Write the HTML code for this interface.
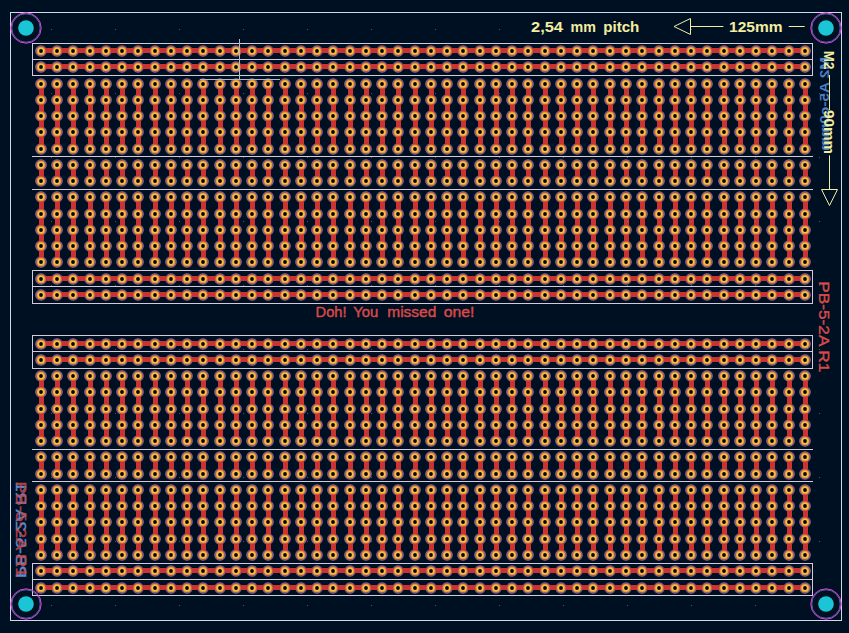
<!DOCTYPE html><html><head><meta charset="utf-8"><style>html,body{margin:0;padding:0;background:#001023;width:849px;height:633px;overflow:hidden}svg{display:block}text{font-family:"Liberation Sans",sans-serif;font-weight:bold}</style></head><body>
<svg width="849" height="633" viewBox="0 0 849 633">
<defs><g id="q"><circle r="5.8" fill="#8c6c9c"/><circle r="4.8" fill="#5c2c48"/></g><g id="p"><circle r="4.6" fill="#e68646"/><circle r="3.5" fill="#f0c244"/><circle r="1.9" fill="#080400"/></g></defs>
<rect width="849" height="633" fill="#001023"/>
<rect x="10.5" y="12.5" width="831" height="608" fill="none" stroke="#d0dae6" stroke-width="1"/>
<g><use href="#q" x="41.00" y="51.00"/><use href="#q" x="57.00" y="51.00"/><use href="#q" x="73.00" y="51.00"/><use href="#q" x="90.00" y="51.00"/><use href="#q" x="106.00" y="51.00"/><use href="#q" x="122.00" y="51.00"/><use href="#q" x="138.00" y="51.00"/><use href="#q" x="155.00" y="51.00"/><use href="#q" x="171.00" y="51.00"/><use href="#q" x="187.00" y="51.00"/><use href="#q" x="203.00" y="51.00"/><use href="#q" x="220.00" y="51.00"/><use href="#q" x="236.00" y="51.00"/><use href="#q" x="252.00" y="51.00"/><use href="#q" x="268.00" y="51.00"/><use href="#q" x="285.00" y="51.00"/><use href="#q" x="301.00" y="51.00"/><use href="#q" x="317.00" y="51.00"/><use href="#q" x="333.00" y="51.00"/><use href="#q" x="350.00" y="51.00"/><use href="#q" x="366.00" y="51.00"/><use href="#q" x="382.00" y="51.00"/><use href="#q" x="398.00" y="51.00"/><use href="#q" x="415.00" y="51.00"/><use href="#q" x="431.00" y="51.00"/><use href="#q" x="447.00" y="51.00"/><use href="#q" x="463.00" y="51.00"/><use href="#q" x="480.00" y="51.00"/><use href="#q" x="496.00" y="51.00"/><use href="#q" x="512.00" y="51.00"/><use href="#q" x="528.00" y="51.00"/><use href="#q" x="545.00" y="51.00"/><use href="#q" x="561.00" y="51.00"/><use href="#q" x="577.00" y="51.00"/><use href="#q" x="593.00" y="51.00"/><use href="#q" x="610.00" y="51.00"/><use href="#q" x="626.00" y="51.00"/><use href="#q" x="642.00" y="51.00"/><use href="#q" x="659.00" y="51.00"/><use href="#q" x="675.00" y="51.00"/><use href="#q" x="691.00" y="51.00"/><use href="#q" x="707.00" y="51.00"/><use href="#q" x="724.00" y="51.00"/><use href="#q" x="740.00" y="51.00"/><use href="#q" x="756.00" y="51.00"/><use href="#q" x="772.00" y="51.00"/><use href="#q" x="789.00" y="51.00"/><use href="#q" x="805.00" y="51.00"/><use href="#q" x="41.00" y="67.00"/><use href="#q" x="57.00" y="67.00"/><use href="#q" x="73.00" y="67.00"/><use href="#q" x="90.00" y="67.00"/><use href="#q" x="106.00" y="67.00"/><use href="#q" x="122.00" y="67.00"/><use href="#q" x="138.00" y="67.00"/><use href="#q" x="155.00" y="67.00"/><use href="#q" x="171.00" y="67.00"/><use href="#q" x="187.00" y="67.00"/><use href="#q" x="203.00" y="67.00"/><use href="#q" x="220.00" y="67.00"/><use href="#q" x="236.00" y="67.00"/><use href="#q" x="252.00" y="67.00"/><use href="#q" x="268.00" y="67.00"/><use href="#q" x="285.00" y="67.00"/><use href="#q" x="301.00" y="67.00"/><use href="#q" x="317.00" y="67.00"/><use href="#q" x="333.00" y="67.00"/><use href="#q" x="350.00" y="67.00"/><use href="#q" x="366.00" y="67.00"/><use href="#q" x="382.00" y="67.00"/><use href="#q" x="398.00" y="67.00"/><use href="#q" x="415.00" y="67.00"/><use href="#q" x="431.00" y="67.00"/><use href="#q" x="447.00" y="67.00"/><use href="#q" x="463.00" y="67.00"/><use href="#q" x="480.00" y="67.00"/><use href="#q" x="496.00" y="67.00"/><use href="#q" x="512.00" y="67.00"/><use href="#q" x="528.00" y="67.00"/><use href="#q" x="545.00" y="67.00"/><use href="#q" x="561.00" y="67.00"/><use href="#q" x="577.00" y="67.00"/><use href="#q" x="593.00" y="67.00"/><use href="#q" x="610.00" y="67.00"/><use href="#q" x="626.00" y="67.00"/><use href="#q" x="642.00" y="67.00"/><use href="#q" x="659.00" y="67.00"/><use href="#q" x="675.00" y="67.00"/><use href="#q" x="691.00" y="67.00"/><use href="#q" x="707.00" y="67.00"/><use href="#q" x="724.00" y="67.00"/><use href="#q" x="740.00" y="67.00"/><use href="#q" x="756.00" y="67.00"/><use href="#q" x="772.00" y="67.00"/><use href="#q" x="789.00" y="67.00"/><use href="#q" x="805.00" y="67.00"/><use href="#q" x="41.00" y="84.00"/><use href="#q" x="57.00" y="84.00"/><use href="#q" x="73.00" y="84.00"/><use href="#q" x="90.00" y="84.00"/><use href="#q" x="106.00" y="84.00"/><use href="#q" x="122.00" y="84.00"/><use href="#q" x="138.00" y="84.00"/><use href="#q" x="155.00" y="84.00"/><use href="#q" x="171.00" y="84.00"/><use href="#q" x="187.00" y="84.00"/><use href="#q" x="203.00" y="84.00"/><use href="#q" x="220.00" y="84.00"/><use href="#q" x="236.00" y="84.00"/><use href="#q" x="252.00" y="84.00"/><use href="#q" x="268.00" y="84.00"/><use href="#q" x="285.00" y="84.00"/><use href="#q" x="301.00" y="84.00"/><use href="#q" x="317.00" y="84.00"/><use href="#q" x="333.00" y="84.00"/><use href="#q" x="350.00" y="84.00"/><use href="#q" x="366.00" y="84.00"/><use href="#q" x="382.00" y="84.00"/><use href="#q" x="398.00" y="84.00"/><use href="#q" x="415.00" y="84.00"/><use href="#q" x="431.00" y="84.00"/><use href="#q" x="447.00" y="84.00"/><use href="#q" x="463.00" y="84.00"/><use href="#q" x="480.00" y="84.00"/><use href="#q" x="496.00" y="84.00"/><use href="#q" x="512.00" y="84.00"/><use href="#q" x="528.00" y="84.00"/><use href="#q" x="545.00" y="84.00"/><use href="#q" x="561.00" y="84.00"/><use href="#q" x="577.00" y="84.00"/><use href="#q" x="593.00" y="84.00"/><use href="#q" x="610.00" y="84.00"/><use href="#q" x="626.00" y="84.00"/><use href="#q" x="642.00" y="84.00"/><use href="#q" x="659.00" y="84.00"/><use href="#q" x="675.00" y="84.00"/><use href="#q" x="691.00" y="84.00"/><use href="#q" x="707.00" y="84.00"/><use href="#q" x="724.00" y="84.00"/><use href="#q" x="740.00" y="84.00"/><use href="#q" x="756.00" y="84.00"/><use href="#q" x="772.00" y="84.00"/><use href="#q" x="789.00" y="84.00"/><use href="#q" x="805.00" y="84.00"/><use href="#q" x="41.00" y="100.00"/><use href="#q" x="57.00" y="100.00"/><use href="#q" x="73.00" y="100.00"/><use href="#q" x="90.00" y="100.00"/><use href="#q" x="106.00" y="100.00"/><use href="#q" x="122.00" y="100.00"/><use href="#q" x="138.00" y="100.00"/><use href="#q" x="155.00" y="100.00"/><use href="#q" x="171.00" y="100.00"/><use href="#q" x="187.00" y="100.00"/><use href="#q" x="203.00" y="100.00"/><use href="#q" x="220.00" y="100.00"/><use href="#q" x="236.00" y="100.00"/><use href="#q" x="252.00" y="100.00"/><use href="#q" x="268.00" y="100.00"/><use href="#q" x="285.00" y="100.00"/><use href="#q" x="301.00" y="100.00"/><use href="#q" x="317.00" y="100.00"/><use href="#q" x="333.00" y="100.00"/><use href="#q" x="350.00" y="100.00"/><use href="#q" x="366.00" y="100.00"/><use href="#q" x="382.00" y="100.00"/><use href="#q" x="398.00" y="100.00"/><use href="#q" x="415.00" y="100.00"/><use href="#q" x="431.00" y="100.00"/><use href="#q" x="447.00" y="100.00"/><use href="#q" x="463.00" y="100.00"/><use href="#q" x="480.00" y="100.00"/><use href="#q" x="496.00" y="100.00"/><use href="#q" x="512.00" y="100.00"/><use href="#q" x="528.00" y="100.00"/><use href="#q" x="545.00" y="100.00"/><use href="#q" x="561.00" y="100.00"/><use href="#q" x="577.00" y="100.00"/><use href="#q" x="593.00" y="100.00"/><use href="#q" x="610.00" y="100.00"/><use href="#q" x="626.00" y="100.00"/><use href="#q" x="642.00" y="100.00"/><use href="#q" x="659.00" y="100.00"/><use href="#q" x="675.00" y="100.00"/><use href="#q" x="691.00" y="100.00"/><use href="#q" x="707.00" y="100.00"/><use href="#q" x="724.00" y="100.00"/><use href="#q" x="740.00" y="100.00"/><use href="#q" x="756.00" y="100.00"/><use href="#q" x="772.00" y="100.00"/><use href="#q" x="789.00" y="100.00"/><use href="#q" x="805.00" y="100.00"/><use href="#q" x="41.00" y="116.00"/><use href="#q" x="57.00" y="116.00"/><use href="#q" x="73.00" y="116.00"/><use href="#q" x="90.00" y="116.00"/><use href="#q" x="106.00" y="116.00"/><use href="#q" x="122.00" y="116.00"/><use href="#q" x="138.00" y="116.00"/><use href="#q" x="155.00" y="116.00"/><use href="#q" x="171.00" y="116.00"/><use href="#q" x="187.00" y="116.00"/><use href="#q" x="203.00" y="116.00"/><use href="#q" x="220.00" y="116.00"/><use href="#q" x="236.00" y="116.00"/><use href="#q" x="252.00" y="116.00"/><use href="#q" x="268.00" y="116.00"/><use href="#q" x="285.00" y="116.00"/><use href="#q" x="301.00" y="116.00"/><use href="#q" x="317.00" y="116.00"/><use href="#q" x="333.00" y="116.00"/><use href="#q" x="350.00" y="116.00"/><use href="#q" x="366.00" y="116.00"/><use href="#q" x="382.00" y="116.00"/><use href="#q" x="398.00" y="116.00"/><use href="#q" x="415.00" y="116.00"/><use href="#q" x="431.00" y="116.00"/><use href="#q" x="447.00" y="116.00"/><use href="#q" x="463.00" y="116.00"/><use href="#q" x="480.00" y="116.00"/><use href="#q" x="496.00" y="116.00"/><use href="#q" x="512.00" y="116.00"/><use href="#q" x="528.00" y="116.00"/><use href="#q" x="545.00" y="116.00"/><use href="#q" x="561.00" y="116.00"/><use href="#q" x="577.00" y="116.00"/><use href="#q" x="593.00" y="116.00"/><use href="#q" x="610.00" y="116.00"/><use href="#q" x="626.00" y="116.00"/><use href="#q" x="642.00" y="116.00"/><use href="#q" x="659.00" y="116.00"/><use href="#q" x="675.00" y="116.00"/><use href="#q" x="691.00" y="116.00"/><use href="#q" x="707.00" y="116.00"/><use href="#q" x="724.00" y="116.00"/><use href="#q" x="740.00" y="116.00"/><use href="#q" x="756.00" y="116.00"/><use href="#q" x="772.00" y="116.00"/><use href="#q" x="789.00" y="116.00"/><use href="#q" x="805.00" y="116.00"/><use href="#q" x="41.00" y="132.00"/><use href="#q" x="57.00" y="132.00"/><use href="#q" x="73.00" y="132.00"/><use href="#q" x="90.00" y="132.00"/><use href="#q" x="106.00" y="132.00"/><use href="#q" x="122.00" y="132.00"/><use href="#q" x="138.00" y="132.00"/><use href="#q" x="155.00" y="132.00"/><use href="#q" x="171.00" y="132.00"/><use href="#q" x="187.00" y="132.00"/><use href="#q" x="203.00" y="132.00"/><use href="#q" x="220.00" y="132.00"/><use href="#q" x="236.00" y="132.00"/><use href="#q" x="252.00" y="132.00"/><use href="#q" x="268.00" y="132.00"/><use href="#q" x="285.00" y="132.00"/><use href="#q" x="301.00" y="132.00"/><use href="#q" x="317.00" y="132.00"/><use href="#q" x="333.00" y="132.00"/><use href="#q" x="350.00" y="132.00"/><use href="#q" x="366.00" y="132.00"/><use href="#q" x="382.00" y="132.00"/><use href="#q" x="398.00" y="132.00"/><use href="#q" x="415.00" y="132.00"/><use href="#q" x="431.00" y="132.00"/><use href="#q" x="447.00" y="132.00"/><use href="#q" x="463.00" y="132.00"/><use href="#q" x="480.00" y="132.00"/><use href="#q" x="496.00" y="132.00"/><use href="#q" x="512.00" y="132.00"/><use href="#q" x="528.00" y="132.00"/><use href="#q" x="545.00" y="132.00"/><use href="#q" x="561.00" y="132.00"/><use href="#q" x="577.00" y="132.00"/><use href="#q" x="593.00" y="132.00"/><use href="#q" x="610.00" y="132.00"/><use href="#q" x="626.00" y="132.00"/><use href="#q" x="642.00" y="132.00"/><use href="#q" x="659.00" y="132.00"/><use href="#q" x="675.00" y="132.00"/><use href="#q" x="691.00" y="132.00"/><use href="#q" x="707.00" y="132.00"/><use href="#q" x="724.00" y="132.00"/><use href="#q" x="740.00" y="132.00"/><use href="#q" x="756.00" y="132.00"/><use href="#q" x="772.00" y="132.00"/><use href="#q" x="789.00" y="132.00"/><use href="#q" x="805.00" y="132.00"/><use href="#q" x="41.00" y="149.00"/><use href="#q" x="57.00" y="149.00"/><use href="#q" x="73.00" y="149.00"/><use href="#q" x="90.00" y="149.00"/><use href="#q" x="106.00" y="149.00"/><use href="#q" x="122.00" y="149.00"/><use href="#q" x="138.00" y="149.00"/><use href="#q" x="155.00" y="149.00"/><use href="#q" x="171.00" y="149.00"/><use href="#q" x="187.00" y="149.00"/><use href="#q" x="203.00" y="149.00"/><use href="#q" x="220.00" y="149.00"/><use href="#q" x="236.00" y="149.00"/><use href="#q" x="252.00" y="149.00"/><use href="#q" x="268.00" y="149.00"/><use href="#q" x="285.00" y="149.00"/><use href="#q" x="301.00" y="149.00"/><use href="#q" x="317.00" y="149.00"/><use href="#q" x="333.00" y="149.00"/><use href="#q" x="350.00" y="149.00"/><use href="#q" x="366.00" y="149.00"/><use href="#q" x="382.00" y="149.00"/><use href="#q" x="398.00" y="149.00"/><use href="#q" x="415.00" y="149.00"/><use href="#q" x="431.00" y="149.00"/><use href="#q" x="447.00" y="149.00"/><use href="#q" x="463.00" y="149.00"/><use href="#q" x="480.00" y="149.00"/><use href="#q" x="496.00" y="149.00"/><use href="#q" x="512.00" y="149.00"/><use href="#q" x="528.00" y="149.00"/><use href="#q" x="545.00" y="149.00"/><use href="#q" x="561.00" y="149.00"/><use href="#q" x="577.00" y="149.00"/><use href="#q" x="593.00" y="149.00"/><use href="#q" x="610.00" y="149.00"/><use href="#q" x="626.00" y="149.00"/><use href="#q" x="642.00" y="149.00"/><use href="#q" x="659.00" y="149.00"/><use href="#q" x="675.00" y="149.00"/><use href="#q" x="691.00" y="149.00"/><use href="#q" x="707.00" y="149.00"/><use href="#q" x="724.00" y="149.00"/><use href="#q" x="740.00" y="149.00"/><use href="#q" x="756.00" y="149.00"/><use href="#q" x="772.00" y="149.00"/><use href="#q" x="789.00" y="149.00"/><use href="#q" x="805.00" y="149.00"/><use href="#q" x="41.00" y="165.00"/><use href="#q" x="57.00" y="165.00"/><use href="#q" x="73.00" y="165.00"/><use href="#q" x="90.00" y="165.00"/><use href="#q" x="106.00" y="165.00"/><use href="#q" x="122.00" y="165.00"/><use href="#q" x="138.00" y="165.00"/><use href="#q" x="155.00" y="165.00"/><use href="#q" x="171.00" y="165.00"/><use href="#q" x="187.00" y="165.00"/><use href="#q" x="203.00" y="165.00"/><use href="#q" x="220.00" y="165.00"/><use href="#q" x="236.00" y="165.00"/><use href="#q" x="252.00" y="165.00"/><use href="#q" x="268.00" y="165.00"/><use href="#q" x="285.00" y="165.00"/><use href="#q" x="301.00" y="165.00"/><use href="#q" x="317.00" y="165.00"/><use href="#q" x="333.00" y="165.00"/><use href="#q" x="350.00" y="165.00"/><use href="#q" x="366.00" y="165.00"/><use href="#q" x="382.00" y="165.00"/><use href="#q" x="398.00" y="165.00"/><use href="#q" x="415.00" y="165.00"/><use href="#q" x="431.00" y="165.00"/><use href="#q" x="447.00" y="165.00"/><use href="#q" x="463.00" y="165.00"/><use href="#q" x="480.00" y="165.00"/><use href="#q" x="496.00" y="165.00"/><use href="#q" x="512.00" y="165.00"/><use href="#q" x="528.00" y="165.00"/><use href="#q" x="545.00" y="165.00"/><use href="#q" x="561.00" y="165.00"/><use href="#q" x="577.00" y="165.00"/><use href="#q" x="593.00" y="165.00"/><use href="#q" x="610.00" y="165.00"/><use href="#q" x="626.00" y="165.00"/><use href="#q" x="642.00" y="165.00"/><use href="#q" x="659.00" y="165.00"/><use href="#q" x="675.00" y="165.00"/><use href="#q" x="691.00" y="165.00"/><use href="#q" x="707.00" y="165.00"/><use href="#q" x="724.00" y="165.00"/><use href="#q" x="740.00" y="165.00"/><use href="#q" x="756.00" y="165.00"/><use href="#q" x="772.00" y="165.00"/><use href="#q" x="789.00" y="165.00"/><use href="#q" x="805.00" y="165.00"/><use href="#q" x="41.00" y="181.00"/><use href="#q" x="57.00" y="181.00"/><use href="#q" x="73.00" y="181.00"/><use href="#q" x="90.00" y="181.00"/><use href="#q" x="106.00" y="181.00"/><use href="#q" x="122.00" y="181.00"/><use href="#q" x="138.00" y="181.00"/><use href="#q" x="155.00" y="181.00"/><use href="#q" x="171.00" y="181.00"/><use href="#q" x="187.00" y="181.00"/><use href="#q" x="203.00" y="181.00"/><use href="#q" x="220.00" y="181.00"/><use href="#q" x="236.00" y="181.00"/><use href="#q" x="252.00" y="181.00"/><use href="#q" x="268.00" y="181.00"/><use href="#q" x="285.00" y="181.00"/><use href="#q" x="301.00" y="181.00"/><use href="#q" x="317.00" y="181.00"/><use href="#q" x="333.00" y="181.00"/><use href="#q" x="350.00" y="181.00"/><use href="#q" x="366.00" y="181.00"/><use href="#q" x="382.00" y="181.00"/><use href="#q" x="398.00" y="181.00"/><use href="#q" x="415.00" y="181.00"/><use href="#q" x="431.00" y="181.00"/><use href="#q" x="447.00" y="181.00"/><use href="#q" x="463.00" y="181.00"/><use href="#q" x="480.00" y="181.00"/><use href="#q" x="496.00" y="181.00"/><use href="#q" x="512.00" y="181.00"/><use href="#q" x="528.00" y="181.00"/><use href="#q" x="545.00" y="181.00"/><use href="#q" x="561.00" y="181.00"/><use href="#q" x="577.00" y="181.00"/><use href="#q" x="593.00" y="181.00"/><use href="#q" x="610.00" y="181.00"/><use href="#q" x="626.00" y="181.00"/><use href="#q" x="642.00" y="181.00"/><use href="#q" x="659.00" y="181.00"/><use href="#q" x="675.00" y="181.00"/><use href="#q" x="691.00" y="181.00"/><use href="#q" x="707.00" y="181.00"/><use href="#q" x="724.00" y="181.00"/><use href="#q" x="740.00" y="181.00"/><use href="#q" x="756.00" y="181.00"/><use href="#q" x="772.00" y="181.00"/><use href="#q" x="789.00" y="181.00"/><use href="#q" x="805.00" y="181.00"/><use href="#q" x="41.00" y="197.00"/><use href="#q" x="57.00" y="197.00"/><use href="#q" x="73.00" y="197.00"/><use href="#q" x="90.00" y="197.00"/><use href="#q" x="106.00" y="197.00"/><use href="#q" x="122.00" y="197.00"/><use href="#q" x="138.00" y="197.00"/><use href="#q" x="155.00" y="197.00"/><use href="#q" x="171.00" y="197.00"/><use href="#q" x="187.00" y="197.00"/><use href="#q" x="203.00" y="197.00"/><use href="#q" x="220.00" y="197.00"/><use href="#q" x="236.00" y="197.00"/><use href="#q" x="252.00" y="197.00"/><use href="#q" x="268.00" y="197.00"/><use href="#q" x="285.00" y="197.00"/><use href="#q" x="301.00" y="197.00"/><use href="#q" x="317.00" y="197.00"/><use href="#q" x="333.00" y="197.00"/><use href="#q" x="350.00" y="197.00"/><use href="#q" x="366.00" y="197.00"/><use href="#q" x="382.00" y="197.00"/><use href="#q" x="398.00" y="197.00"/><use href="#q" x="415.00" y="197.00"/><use href="#q" x="431.00" y="197.00"/><use href="#q" x="447.00" y="197.00"/><use href="#q" x="463.00" y="197.00"/><use href="#q" x="480.00" y="197.00"/><use href="#q" x="496.00" y="197.00"/><use href="#q" x="512.00" y="197.00"/><use href="#q" x="528.00" y="197.00"/><use href="#q" x="545.00" y="197.00"/><use href="#q" x="561.00" y="197.00"/><use href="#q" x="577.00" y="197.00"/><use href="#q" x="593.00" y="197.00"/><use href="#q" x="610.00" y="197.00"/><use href="#q" x="626.00" y="197.00"/><use href="#q" x="642.00" y="197.00"/><use href="#q" x="659.00" y="197.00"/><use href="#q" x="675.00" y="197.00"/><use href="#q" x="691.00" y="197.00"/><use href="#q" x="707.00" y="197.00"/><use href="#q" x="724.00" y="197.00"/><use href="#q" x="740.00" y="197.00"/><use href="#q" x="756.00" y="197.00"/><use href="#q" x="772.00" y="197.00"/><use href="#q" x="789.00" y="197.00"/><use href="#q" x="805.00" y="197.00"/><use href="#q" x="41.00" y="214.00"/><use href="#q" x="57.00" y="214.00"/><use href="#q" x="73.00" y="214.00"/><use href="#q" x="90.00" y="214.00"/><use href="#q" x="106.00" y="214.00"/><use href="#q" x="122.00" y="214.00"/><use href="#q" x="138.00" y="214.00"/><use href="#q" x="155.00" y="214.00"/><use href="#q" x="171.00" y="214.00"/><use href="#q" x="187.00" y="214.00"/><use href="#q" x="203.00" y="214.00"/><use href="#q" x="220.00" y="214.00"/><use href="#q" x="236.00" y="214.00"/><use href="#q" x="252.00" y="214.00"/><use href="#q" x="268.00" y="214.00"/><use href="#q" x="285.00" y="214.00"/><use href="#q" x="301.00" y="214.00"/><use href="#q" x="317.00" y="214.00"/><use href="#q" x="333.00" y="214.00"/><use href="#q" x="350.00" y="214.00"/><use href="#q" x="366.00" y="214.00"/><use href="#q" x="382.00" y="214.00"/><use href="#q" x="398.00" y="214.00"/><use href="#q" x="415.00" y="214.00"/><use href="#q" x="431.00" y="214.00"/><use href="#q" x="447.00" y="214.00"/><use href="#q" x="463.00" y="214.00"/><use href="#q" x="480.00" y="214.00"/><use href="#q" x="496.00" y="214.00"/><use href="#q" x="512.00" y="214.00"/><use href="#q" x="528.00" y="214.00"/><use href="#q" x="545.00" y="214.00"/><use href="#q" x="561.00" y="214.00"/><use href="#q" x="577.00" y="214.00"/><use href="#q" x="593.00" y="214.00"/><use href="#q" x="610.00" y="214.00"/><use href="#q" x="626.00" y="214.00"/><use href="#q" x="642.00" y="214.00"/><use href="#q" x="659.00" y="214.00"/><use href="#q" x="675.00" y="214.00"/><use href="#q" x="691.00" y="214.00"/><use href="#q" x="707.00" y="214.00"/><use href="#q" x="724.00" y="214.00"/><use href="#q" x="740.00" y="214.00"/><use href="#q" x="756.00" y="214.00"/><use href="#q" x="772.00" y="214.00"/><use href="#q" x="789.00" y="214.00"/><use href="#q" x="805.00" y="214.00"/><use href="#q" x="41.00" y="230.00"/><use href="#q" x="57.00" y="230.00"/><use href="#q" x="73.00" y="230.00"/><use href="#q" x="90.00" y="230.00"/><use href="#q" x="106.00" y="230.00"/><use href="#q" x="122.00" y="230.00"/><use href="#q" x="138.00" y="230.00"/><use href="#q" x="155.00" y="230.00"/><use href="#q" x="171.00" y="230.00"/><use href="#q" x="187.00" y="230.00"/><use href="#q" x="203.00" y="230.00"/><use href="#q" x="220.00" y="230.00"/><use href="#q" x="236.00" y="230.00"/><use href="#q" x="252.00" y="230.00"/><use href="#q" x="268.00" y="230.00"/><use href="#q" x="285.00" y="230.00"/><use href="#q" x="301.00" y="230.00"/><use href="#q" x="317.00" y="230.00"/><use href="#q" x="333.00" y="230.00"/><use href="#q" x="350.00" y="230.00"/><use href="#q" x="366.00" y="230.00"/><use href="#q" x="382.00" y="230.00"/><use href="#q" x="398.00" y="230.00"/><use href="#q" x="415.00" y="230.00"/><use href="#q" x="431.00" y="230.00"/><use href="#q" x="447.00" y="230.00"/><use href="#q" x="463.00" y="230.00"/><use href="#q" x="480.00" y="230.00"/><use href="#q" x="496.00" y="230.00"/><use href="#q" x="512.00" y="230.00"/><use href="#q" x="528.00" y="230.00"/><use href="#q" x="545.00" y="230.00"/><use href="#q" x="561.00" y="230.00"/><use href="#q" x="577.00" y="230.00"/><use href="#q" x="593.00" y="230.00"/><use href="#q" x="610.00" y="230.00"/><use href="#q" x="626.00" y="230.00"/><use href="#q" x="642.00" y="230.00"/><use href="#q" x="659.00" y="230.00"/><use href="#q" x="675.00" y="230.00"/><use href="#q" x="691.00" y="230.00"/><use href="#q" x="707.00" y="230.00"/><use href="#q" x="724.00" y="230.00"/><use href="#q" x="740.00" y="230.00"/><use href="#q" x="756.00" y="230.00"/><use href="#q" x="772.00" y="230.00"/><use href="#q" x="789.00" y="230.00"/><use href="#q" x="805.00" y="230.00"/><use href="#q" x="41.00" y="246.00"/><use href="#q" x="57.00" y="246.00"/><use href="#q" x="73.00" y="246.00"/><use href="#q" x="90.00" y="246.00"/><use href="#q" x="106.00" y="246.00"/><use href="#q" x="122.00" y="246.00"/><use href="#q" x="138.00" y="246.00"/><use href="#q" x="155.00" y="246.00"/><use href="#q" x="171.00" y="246.00"/><use href="#q" x="187.00" y="246.00"/><use href="#q" x="203.00" y="246.00"/><use href="#q" x="220.00" y="246.00"/><use href="#q" x="236.00" y="246.00"/><use href="#q" x="252.00" y="246.00"/><use href="#q" x="268.00" y="246.00"/><use href="#q" x="285.00" y="246.00"/><use href="#q" x="301.00" y="246.00"/><use href="#q" x="317.00" y="246.00"/><use href="#q" x="333.00" y="246.00"/><use href="#q" x="350.00" y="246.00"/><use href="#q" x="366.00" y="246.00"/><use href="#q" x="382.00" y="246.00"/><use href="#q" x="398.00" y="246.00"/><use href="#q" x="415.00" y="246.00"/><use href="#q" x="431.00" y="246.00"/><use href="#q" x="447.00" y="246.00"/><use href="#q" x="463.00" y="246.00"/><use href="#q" x="480.00" y="246.00"/><use href="#q" x="496.00" y="246.00"/><use href="#q" x="512.00" y="246.00"/><use href="#q" x="528.00" y="246.00"/><use href="#q" x="545.00" y="246.00"/><use href="#q" x="561.00" y="246.00"/><use href="#q" x="577.00" y="246.00"/><use href="#q" x="593.00" y="246.00"/><use href="#q" x="610.00" y="246.00"/><use href="#q" x="626.00" y="246.00"/><use href="#q" x="642.00" y="246.00"/><use href="#q" x="659.00" y="246.00"/><use href="#q" x="675.00" y="246.00"/><use href="#q" x="691.00" y="246.00"/><use href="#q" x="707.00" y="246.00"/><use href="#q" x="724.00" y="246.00"/><use href="#q" x="740.00" y="246.00"/><use href="#q" x="756.00" y="246.00"/><use href="#q" x="772.00" y="246.00"/><use href="#q" x="789.00" y="246.00"/><use href="#q" x="805.00" y="246.00"/><use href="#q" x="41.00" y="262.00"/><use href="#q" x="57.00" y="262.00"/><use href="#q" x="73.00" y="262.00"/><use href="#q" x="90.00" y="262.00"/><use href="#q" x="106.00" y="262.00"/><use href="#q" x="122.00" y="262.00"/><use href="#q" x="138.00" y="262.00"/><use href="#q" x="155.00" y="262.00"/><use href="#q" x="171.00" y="262.00"/><use href="#q" x="187.00" y="262.00"/><use href="#q" x="203.00" y="262.00"/><use href="#q" x="220.00" y="262.00"/><use href="#q" x="236.00" y="262.00"/><use href="#q" x="252.00" y="262.00"/><use href="#q" x="268.00" y="262.00"/><use href="#q" x="285.00" y="262.00"/><use href="#q" x="301.00" y="262.00"/><use href="#q" x="317.00" y="262.00"/><use href="#q" x="333.00" y="262.00"/><use href="#q" x="350.00" y="262.00"/><use href="#q" x="366.00" y="262.00"/><use href="#q" x="382.00" y="262.00"/><use href="#q" x="398.00" y="262.00"/><use href="#q" x="415.00" y="262.00"/><use href="#q" x="431.00" y="262.00"/><use href="#q" x="447.00" y="262.00"/><use href="#q" x="463.00" y="262.00"/><use href="#q" x="480.00" y="262.00"/><use href="#q" x="496.00" y="262.00"/><use href="#q" x="512.00" y="262.00"/><use href="#q" x="528.00" y="262.00"/><use href="#q" x="545.00" y="262.00"/><use href="#q" x="561.00" y="262.00"/><use href="#q" x="577.00" y="262.00"/><use href="#q" x="593.00" y="262.00"/><use href="#q" x="610.00" y="262.00"/><use href="#q" x="626.00" y="262.00"/><use href="#q" x="642.00" y="262.00"/><use href="#q" x="659.00" y="262.00"/><use href="#q" x="675.00" y="262.00"/><use href="#q" x="691.00" y="262.00"/><use href="#q" x="707.00" y="262.00"/><use href="#q" x="724.00" y="262.00"/><use href="#q" x="740.00" y="262.00"/><use href="#q" x="756.00" y="262.00"/><use href="#q" x="772.00" y="262.00"/><use href="#q" x="789.00" y="262.00"/><use href="#q" x="805.00" y="262.00"/><use href="#q" x="41.00" y="279.00"/><use href="#q" x="57.00" y="279.00"/><use href="#q" x="73.00" y="279.00"/><use href="#q" x="90.00" y="279.00"/><use href="#q" x="106.00" y="279.00"/><use href="#q" x="122.00" y="279.00"/><use href="#q" x="138.00" y="279.00"/><use href="#q" x="155.00" y="279.00"/><use href="#q" x="171.00" y="279.00"/><use href="#q" x="187.00" y="279.00"/><use href="#q" x="203.00" y="279.00"/><use href="#q" x="220.00" y="279.00"/><use href="#q" x="236.00" y="279.00"/><use href="#q" x="252.00" y="279.00"/><use href="#q" x="268.00" y="279.00"/><use href="#q" x="285.00" y="279.00"/><use href="#q" x="301.00" y="279.00"/><use href="#q" x="317.00" y="279.00"/><use href="#q" x="333.00" y="279.00"/><use href="#q" x="350.00" y="279.00"/><use href="#q" x="366.00" y="279.00"/><use href="#q" x="382.00" y="279.00"/><use href="#q" x="398.00" y="279.00"/><use href="#q" x="415.00" y="279.00"/><use href="#q" x="431.00" y="279.00"/><use href="#q" x="447.00" y="279.00"/><use href="#q" x="463.00" y="279.00"/><use href="#q" x="480.00" y="279.00"/><use href="#q" x="496.00" y="279.00"/><use href="#q" x="512.00" y="279.00"/><use href="#q" x="528.00" y="279.00"/><use href="#q" x="545.00" y="279.00"/><use href="#q" x="561.00" y="279.00"/><use href="#q" x="577.00" y="279.00"/><use href="#q" x="593.00" y="279.00"/><use href="#q" x="610.00" y="279.00"/><use href="#q" x="626.00" y="279.00"/><use href="#q" x="642.00" y="279.00"/><use href="#q" x="659.00" y="279.00"/><use href="#q" x="675.00" y="279.00"/><use href="#q" x="691.00" y="279.00"/><use href="#q" x="707.00" y="279.00"/><use href="#q" x="724.00" y="279.00"/><use href="#q" x="740.00" y="279.00"/><use href="#q" x="756.00" y="279.00"/><use href="#q" x="772.00" y="279.00"/><use href="#q" x="789.00" y="279.00"/><use href="#q" x="805.00" y="279.00"/><use href="#q" x="41.00" y="295.00"/><use href="#q" x="57.00" y="295.00"/><use href="#q" x="73.00" y="295.00"/><use href="#q" x="90.00" y="295.00"/><use href="#q" x="106.00" y="295.00"/><use href="#q" x="122.00" y="295.00"/><use href="#q" x="138.00" y="295.00"/><use href="#q" x="155.00" y="295.00"/><use href="#q" x="171.00" y="295.00"/><use href="#q" x="187.00" y="295.00"/><use href="#q" x="203.00" y="295.00"/><use href="#q" x="220.00" y="295.00"/><use href="#q" x="236.00" y="295.00"/><use href="#q" x="252.00" y="295.00"/><use href="#q" x="268.00" y="295.00"/><use href="#q" x="285.00" y="295.00"/><use href="#q" x="301.00" y="295.00"/><use href="#q" x="317.00" y="295.00"/><use href="#q" x="333.00" y="295.00"/><use href="#q" x="350.00" y="295.00"/><use href="#q" x="366.00" y="295.00"/><use href="#q" x="382.00" y="295.00"/><use href="#q" x="398.00" y="295.00"/><use href="#q" x="415.00" y="295.00"/><use href="#q" x="431.00" y="295.00"/><use href="#q" x="447.00" y="295.00"/><use href="#q" x="463.00" y="295.00"/><use href="#q" x="480.00" y="295.00"/><use href="#q" x="496.00" y="295.00"/><use href="#q" x="512.00" y="295.00"/><use href="#q" x="528.00" y="295.00"/><use href="#q" x="545.00" y="295.00"/><use href="#q" x="561.00" y="295.00"/><use href="#q" x="577.00" y="295.00"/><use href="#q" x="593.00" y="295.00"/><use href="#q" x="610.00" y="295.00"/><use href="#q" x="626.00" y="295.00"/><use href="#q" x="642.00" y="295.00"/><use href="#q" x="659.00" y="295.00"/><use href="#q" x="675.00" y="295.00"/><use href="#q" x="691.00" y="295.00"/><use href="#q" x="707.00" y="295.00"/><use href="#q" x="724.00" y="295.00"/><use href="#q" x="740.00" y="295.00"/><use href="#q" x="756.00" y="295.00"/><use href="#q" x="772.00" y="295.00"/><use href="#q" x="789.00" y="295.00"/><use href="#q" x="805.00" y="295.00"/><use href="#q" x="41.00" y="344.00"/><use href="#q" x="57.00" y="344.00"/><use href="#q" x="73.00" y="344.00"/><use href="#q" x="90.00" y="344.00"/><use href="#q" x="106.00" y="344.00"/><use href="#q" x="122.00" y="344.00"/><use href="#q" x="138.00" y="344.00"/><use href="#q" x="155.00" y="344.00"/><use href="#q" x="171.00" y="344.00"/><use href="#q" x="187.00" y="344.00"/><use href="#q" x="203.00" y="344.00"/><use href="#q" x="220.00" y="344.00"/><use href="#q" x="236.00" y="344.00"/><use href="#q" x="252.00" y="344.00"/><use href="#q" x="268.00" y="344.00"/><use href="#q" x="285.00" y="344.00"/><use href="#q" x="301.00" y="344.00"/><use href="#q" x="317.00" y="344.00"/><use href="#q" x="333.00" y="344.00"/><use href="#q" x="350.00" y="344.00"/><use href="#q" x="366.00" y="344.00"/><use href="#q" x="382.00" y="344.00"/><use href="#q" x="398.00" y="344.00"/><use href="#q" x="415.00" y="344.00"/><use href="#q" x="431.00" y="344.00"/><use href="#q" x="447.00" y="344.00"/><use href="#q" x="463.00" y="344.00"/><use href="#q" x="480.00" y="344.00"/><use href="#q" x="496.00" y="344.00"/><use href="#q" x="512.00" y="344.00"/><use href="#q" x="528.00" y="344.00"/><use href="#q" x="545.00" y="344.00"/><use href="#q" x="561.00" y="344.00"/><use href="#q" x="577.00" y="344.00"/><use href="#q" x="593.00" y="344.00"/><use href="#q" x="610.00" y="344.00"/><use href="#q" x="626.00" y="344.00"/><use href="#q" x="642.00" y="344.00"/><use href="#q" x="659.00" y="344.00"/><use href="#q" x="675.00" y="344.00"/><use href="#q" x="691.00" y="344.00"/><use href="#q" x="707.00" y="344.00"/><use href="#q" x="724.00" y="344.00"/><use href="#q" x="740.00" y="344.00"/><use href="#q" x="756.00" y="344.00"/><use href="#q" x="772.00" y="344.00"/><use href="#q" x="789.00" y="344.00"/><use href="#q" x="805.00" y="344.00"/><use href="#q" x="41.00" y="360.00"/><use href="#q" x="57.00" y="360.00"/><use href="#q" x="73.00" y="360.00"/><use href="#q" x="90.00" y="360.00"/><use href="#q" x="106.00" y="360.00"/><use href="#q" x="122.00" y="360.00"/><use href="#q" x="138.00" y="360.00"/><use href="#q" x="155.00" y="360.00"/><use href="#q" x="171.00" y="360.00"/><use href="#q" x="187.00" y="360.00"/><use href="#q" x="203.00" y="360.00"/><use href="#q" x="220.00" y="360.00"/><use href="#q" x="236.00" y="360.00"/><use href="#q" x="252.00" y="360.00"/><use href="#q" x="268.00" y="360.00"/><use href="#q" x="285.00" y="360.00"/><use href="#q" x="301.00" y="360.00"/><use href="#q" x="317.00" y="360.00"/><use href="#q" x="333.00" y="360.00"/><use href="#q" x="350.00" y="360.00"/><use href="#q" x="366.00" y="360.00"/><use href="#q" x="382.00" y="360.00"/><use href="#q" x="398.00" y="360.00"/><use href="#q" x="415.00" y="360.00"/><use href="#q" x="431.00" y="360.00"/><use href="#q" x="447.00" y="360.00"/><use href="#q" x="463.00" y="360.00"/><use href="#q" x="480.00" y="360.00"/><use href="#q" x="496.00" y="360.00"/><use href="#q" x="512.00" y="360.00"/><use href="#q" x="528.00" y="360.00"/><use href="#q" x="545.00" y="360.00"/><use href="#q" x="561.00" y="360.00"/><use href="#q" x="577.00" y="360.00"/><use href="#q" x="593.00" y="360.00"/><use href="#q" x="610.00" y="360.00"/><use href="#q" x="626.00" y="360.00"/><use href="#q" x="642.00" y="360.00"/><use href="#q" x="659.00" y="360.00"/><use href="#q" x="675.00" y="360.00"/><use href="#q" x="691.00" y="360.00"/><use href="#q" x="707.00" y="360.00"/><use href="#q" x="724.00" y="360.00"/><use href="#q" x="740.00" y="360.00"/><use href="#q" x="756.00" y="360.00"/><use href="#q" x="772.00" y="360.00"/><use href="#q" x="789.00" y="360.00"/><use href="#q" x="805.00" y="360.00"/><use href="#q" x="41.00" y="376.00"/><use href="#q" x="57.00" y="376.00"/><use href="#q" x="73.00" y="376.00"/><use href="#q" x="90.00" y="376.00"/><use href="#q" x="106.00" y="376.00"/><use href="#q" x="122.00" y="376.00"/><use href="#q" x="138.00" y="376.00"/><use href="#q" x="155.00" y="376.00"/><use href="#q" x="171.00" y="376.00"/><use href="#q" x="187.00" y="376.00"/><use href="#q" x="203.00" y="376.00"/><use href="#q" x="220.00" y="376.00"/><use href="#q" x="236.00" y="376.00"/><use href="#q" x="252.00" y="376.00"/><use href="#q" x="268.00" y="376.00"/><use href="#q" x="285.00" y="376.00"/><use href="#q" x="301.00" y="376.00"/><use href="#q" x="317.00" y="376.00"/><use href="#q" x="333.00" y="376.00"/><use href="#q" x="350.00" y="376.00"/><use href="#q" x="366.00" y="376.00"/><use href="#q" x="382.00" y="376.00"/><use href="#q" x="398.00" y="376.00"/><use href="#q" x="415.00" y="376.00"/><use href="#q" x="431.00" y="376.00"/><use href="#q" x="447.00" y="376.00"/><use href="#q" x="463.00" y="376.00"/><use href="#q" x="480.00" y="376.00"/><use href="#q" x="496.00" y="376.00"/><use href="#q" x="512.00" y="376.00"/><use href="#q" x="528.00" y="376.00"/><use href="#q" x="545.00" y="376.00"/><use href="#q" x="561.00" y="376.00"/><use href="#q" x="577.00" y="376.00"/><use href="#q" x="593.00" y="376.00"/><use href="#q" x="610.00" y="376.00"/><use href="#q" x="626.00" y="376.00"/><use href="#q" x="642.00" y="376.00"/><use href="#q" x="659.00" y="376.00"/><use href="#q" x="675.00" y="376.00"/><use href="#q" x="691.00" y="376.00"/><use href="#q" x="707.00" y="376.00"/><use href="#q" x="724.00" y="376.00"/><use href="#q" x="740.00" y="376.00"/><use href="#q" x="756.00" y="376.00"/><use href="#q" x="772.00" y="376.00"/><use href="#q" x="789.00" y="376.00"/><use href="#q" x="805.00" y="376.00"/><use href="#q" x="41.00" y="392.00"/><use href="#q" x="57.00" y="392.00"/><use href="#q" x="73.00" y="392.00"/><use href="#q" x="90.00" y="392.00"/><use href="#q" x="106.00" y="392.00"/><use href="#q" x="122.00" y="392.00"/><use href="#q" x="138.00" y="392.00"/><use href="#q" x="155.00" y="392.00"/><use href="#q" x="171.00" y="392.00"/><use href="#q" x="187.00" y="392.00"/><use href="#q" x="203.00" y="392.00"/><use href="#q" x="220.00" y="392.00"/><use href="#q" x="236.00" y="392.00"/><use href="#q" x="252.00" y="392.00"/><use href="#q" x="268.00" y="392.00"/><use href="#q" x="285.00" y="392.00"/><use href="#q" x="301.00" y="392.00"/><use href="#q" x="317.00" y="392.00"/><use href="#q" x="333.00" y="392.00"/><use href="#q" x="350.00" y="392.00"/><use href="#q" x="366.00" y="392.00"/><use href="#q" x="382.00" y="392.00"/><use href="#q" x="398.00" y="392.00"/><use href="#q" x="415.00" y="392.00"/><use href="#q" x="431.00" y="392.00"/><use href="#q" x="447.00" y="392.00"/><use href="#q" x="463.00" y="392.00"/><use href="#q" x="480.00" y="392.00"/><use href="#q" x="496.00" y="392.00"/><use href="#q" x="512.00" y="392.00"/><use href="#q" x="528.00" y="392.00"/><use href="#q" x="545.00" y="392.00"/><use href="#q" x="561.00" y="392.00"/><use href="#q" x="577.00" y="392.00"/><use href="#q" x="593.00" y="392.00"/><use href="#q" x="610.00" y="392.00"/><use href="#q" x="626.00" y="392.00"/><use href="#q" x="642.00" y="392.00"/><use href="#q" x="659.00" y="392.00"/><use href="#q" x="675.00" y="392.00"/><use href="#q" x="691.00" y="392.00"/><use href="#q" x="707.00" y="392.00"/><use href="#q" x="724.00" y="392.00"/><use href="#q" x="740.00" y="392.00"/><use href="#q" x="756.00" y="392.00"/><use href="#q" x="772.00" y="392.00"/><use href="#q" x="789.00" y="392.00"/><use href="#q" x="805.00" y="392.00"/><use href="#q" x="41.00" y="409.00"/><use href="#q" x="57.00" y="409.00"/><use href="#q" x="73.00" y="409.00"/><use href="#q" x="90.00" y="409.00"/><use href="#q" x="106.00" y="409.00"/><use href="#q" x="122.00" y="409.00"/><use href="#q" x="138.00" y="409.00"/><use href="#q" x="155.00" y="409.00"/><use href="#q" x="171.00" y="409.00"/><use href="#q" x="187.00" y="409.00"/><use href="#q" x="203.00" y="409.00"/><use href="#q" x="220.00" y="409.00"/><use href="#q" x="236.00" y="409.00"/><use href="#q" x="252.00" y="409.00"/><use href="#q" x="268.00" y="409.00"/><use href="#q" x="285.00" y="409.00"/><use href="#q" x="301.00" y="409.00"/><use href="#q" x="317.00" y="409.00"/><use href="#q" x="333.00" y="409.00"/><use href="#q" x="350.00" y="409.00"/><use href="#q" x="366.00" y="409.00"/><use href="#q" x="382.00" y="409.00"/><use href="#q" x="398.00" y="409.00"/><use href="#q" x="415.00" y="409.00"/><use href="#q" x="431.00" y="409.00"/><use href="#q" x="447.00" y="409.00"/><use href="#q" x="463.00" y="409.00"/><use href="#q" x="480.00" y="409.00"/><use href="#q" x="496.00" y="409.00"/><use href="#q" x="512.00" y="409.00"/><use href="#q" x="528.00" y="409.00"/><use href="#q" x="545.00" y="409.00"/><use href="#q" x="561.00" y="409.00"/><use href="#q" x="577.00" y="409.00"/><use href="#q" x="593.00" y="409.00"/><use href="#q" x="610.00" y="409.00"/><use href="#q" x="626.00" y="409.00"/><use href="#q" x="642.00" y="409.00"/><use href="#q" x="659.00" y="409.00"/><use href="#q" x="675.00" y="409.00"/><use href="#q" x="691.00" y="409.00"/><use href="#q" x="707.00" y="409.00"/><use href="#q" x="724.00" y="409.00"/><use href="#q" x="740.00" y="409.00"/><use href="#q" x="756.00" y="409.00"/><use href="#q" x="772.00" y="409.00"/><use href="#q" x="789.00" y="409.00"/><use href="#q" x="805.00" y="409.00"/><use href="#q" x="41.00" y="425.00"/><use href="#q" x="57.00" y="425.00"/><use href="#q" x="73.00" y="425.00"/><use href="#q" x="90.00" y="425.00"/><use href="#q" x="106.00" y="425.00"/><use href="#q" x="122.00" y="425.00"/><use href="#q" x="138.00" y="425.00"/><use href="#q" x="155.00" y="425.00"/><use href="#q" x="171.00" y="425.00"/><use href="#q" x="187.00" y="425.00"/><use href="#q" x="203.00" y="425.00"/><use href="#q" x="220.00" y="425.00"/><use href="#q" x="236.00" y="425.00"/><use href="#q" x="252.00" y="425.00"/><use href="#q" x="268.00" y="425.00"/><use href="#q" x="285.00" y="425.00"/><use href="#q" x="301.00" y="425.00"/><use href="#q" x="317.00" y="425.00"/><use href="#q" x="333.00" y="425.00"/><use href="#q" x="350.00" y="425.00"/><use href="#q" x="366.00" y="425.00"/><use href="#q" x="382.00" y="425.00"/><use href="#q" x="398.00" y="425.00"/><use href="#q" x="415.00" y="425.00"/><use href="#q" x="431.00" y="425.00"/><use href="#q" x="447.00" y="425.00"/><use href="#q" x="463.00" y="425.00"/><use href="#q" x="480.00" y="425.00"/><use href="#q" x="496.00" y="425.00"/><use href="#q" x="512.00" y="425.00"/><use href="#q" x="528.00" y="425.00"/><use href="#q" x="545.00" y="425.00"/><use href="#q" x="561.00" y="425.00"/><use href="#q" x="577.00" y="425.00"/><use href="#q" x="593.00" y="425.00"/><use href="#q" x="610.00" y="425.00"/><use href="#q" x="626.00" y="425.00"/><use href="#q" x="642.00" y="425.00"/><use href="#q" x="659.00" y="425.00"/><use href="#q" x="675.00" y="425.00"/><use href="#q" x="691.00" y="425.00"/><use href="#q" x="707.00" y="425.00"/><use href="#q" x="724.00" y="425.00"/><use href="#q" x="740.00" y="425.00"/><use href="#q" x="756.00" y="425.00"/><use href="#q" x="772.00" y="425.00"/><use href="#q" x="789.00" y="425.00"/><use href="#q" x="805.00" y="425.00"/><use href="#q" x="41.00" y="441.00"/><use href="#q" x="57.00" y="441.00"/><use href="#q" x="73.00" y="441.00"/><use href="#q" x="90.00" y="441.00"/><use href="#q" x="106.00" y="441.00"/><use href="#q" x="122.00" y="441.00"/><use href="#q" x="138.00" y="441.00"/><use href="#q" x="155.00" y="441.00"/><use href="#q" x="171.00" y="441.00"/><use href="#q" x="187.00" y="441.00"/><use href="#q" x="203.00" y="441.00"/><use href="#q" x="220.00" y="441.00"/><use href="#q" x="236.00" y="441.00"/><use href="#q" x="252.00" y="441.00"/><use href="#q" x="268.00" y="441.00"/><use href="#q" x="285.00" y="441.00"/><use href="#q" x="301.00" y="441.00"/><use href="#q" x="317.00" y="441.00"/><use href="#q" x="333.00" y="441.00"/><use href="#q" x="350.00" y="441.00"/><use href="#q" x="366.00" y="441.00"/><use href="#q" x="382.00" y="441.00"/><use href="#q" x="398.00" y="441.00"/><use href="#q" x="415.00" y="441.00"/><use href="#q" x="431.00" y="441.00"/><use href="#q" x="447.00" y="441.00"/><use href="#q" x="463.00" y="441.00"/><use href="#q" x="480.00" y="441.00"/><use href="#q" x="496.00" y="441.00"/><use href="#q" x="512.00" y="441.00"/><use href="#q" x="528.00" y="441.00"/><use href="#q" x="545.00" y="441.00"/><use href="#q" x="561.00" y="441.00"/><use href="#q" x="577.00" y="441.00"/><use href="#q" x="593.00" y="441.00"/><use href="#q" x="610.00" y="441.00"/><use href="#q" x="626.00" y="441.00"/><use href="#q" x="642.00" y="441.00"/><use href="#q" x="659.00" y="441.00"/><use href="#q" x="675.00" y="441.00"/><use href="#q" x="691.00" y="441.00"/><use href="#q" x="707.00" y="441.00"/><use href="#q" x="724.00" y="441.00"/><use href="#q" x="740.00" y="441.00"/><use href="#q" x="756.00" y="441.00"/><use href="#q" x="772.00" y="441.00"/><use href="#q" x="789.00" y="441.00"/><use href="#q" x="805.00" y="441.00"/><use href="#q" x="41.00" y="457.00"/><use href="#q" x="57.00" y="457.00"/><use href="#q" x="73.00" y="457.00"/><use href="#q" x="90.00" y="457.00"/><use href="#q" x="106.00" y="457.00"/><use href="#q" x="122.00" y="457.00"/><use href="#q" x="138.00" y="457.00"/><use href="#q" x="155.00" y="457.00"/><use href="#q" x="171.00" y="457.00"/><use href="#q" x="187.00" y="457.00"/><use href="#q" x="203.00" y="457.00"/><use href="#q" x="220.00" y="457.00"/><use href="#q" x="236.00" y="457.00"/><use href="#q" x="252.00" y="457.00"/><use href="#q" x="268.00" y="457.00"/><use href="#q" x="285.00" y="457.00"/><use href="#q" x="301.00" y="457.00"/><use href="#q" x="317.00" y="457.00"/><use href="#q" x="333.00" y="457.00"/><use href="#q" x="350.00" y="457.00"/><use href="#q" x="366.00" y="457.00"/><use href="#q" x="382.00" y="457.00"/><use href="#q" x="398.00" y="457.00"/><use href="#q" x="415.00" y="457.00"/><use href="#q" x="431.00" y="457.00"/><use href="#q" x="447.00" y="457.00"/><use href="#q" x="463.00" y="457.00"/><use href="#q" x="480.00" y="457.00"/><use href="#q" x="496.00" y="457.00"/><use href="#q" x="512.00" y="457.00"/><use href="#q" x="528.00" y="457.00"/><use href="#q" x="545.00" y="457.00"/><use href="#q" x="561.00" y="457.00"/><use href="#q" x="577.00" y="457.00"/><use href="#q" x="593.00" y="457.00"/><use href="#q" x="610.00" y="457.00"/><use href="#q" x="626.00" y="457.00"/><use href="#q" x="642.00" y="457.00"/><use href="#q" x="659.00" y="457.00"/><use href="#q" x="675.00" y="457.00"/><use href="#q" x="691.00" y="457.00"/><use href="#q" x="707.00" y="457.00"/><use href="#q" x="724.00" y="457.00"/><use href="#q" x="740.00" y="457.00"/><use href="#q" x="756.00" y="457.00"/><use href="#q" x="772.00" y="457.00"/><use href="#q" x="789.00" y="457.00"/><use href="#q" x="805.00" y="457.00"/><use href="#q" x="41.00" y="474.00"/><use href="#q" x="57.00" y="474.00"/><use href="#q" x="73.00" y="474.00"/><use href="#q" x="90.00" y="474.00"/><use href="#q" x="106.00" y="474.00"/><use href="#q" x="122.00" y="474.00"/><use href="#q" x="138.00" y="474.00"/><use href="#q" x="155.00" y="474.00"/><use href="#q" x="171.00" y="474.00"/><use href="#q" x="187.00" y="474.00"/><use href="#q" x="203.00" y="474.00"/><use href="#q" x="220.00" y="474.00"/><use href="#q" x="236.00" y="474.00"/><use href="#q" x="252.00" y="474.00"/><use href="#q" x="268.00" y="474.00"/><use href="#q" x="285.00" y="474.00"/><use href="#q" x="301.00" y="474.00"/><use href="#q" x="317.00" y="474.00"/><use href="#q" x="333.00" y="474.00"/><use href="#q" x="350.00" y="474.00"/><use href="#q" x="366.00" y="474.00"/><use href="#q" x="382.00" y="474.00"/><use href="#q" x="398.00" y="474.00"/><use href="#q" x="415.00" y="474.00"/><use href="#q" x="431.00" y="474.00"/><use href="#q" x="447.00" y="474.00"/><use href="#q" x="463.00" y="474.00"/><use href="#q" x="480.00" y="474.00"/><use href="#q" x="496.00" y="474.00"/><use href="#q" x="512.00" y="474.00"/><use href="#q" x="528.00" y="474.00"/><use href="#q" x="545.00" y="474.00"/><use href="#q" x="561.00" y="474.00"/><use href="#q" x="577.00" y="474.00"/><use href="#q" x="593.00" y="474.00"/><use href="#q" x="610.00" y="474.00"/><use href="#q" x="626.00" y="474.00"/><use href="#q" x="642.00" y="474.00"/><use href="#q" x="659.00" y="474.00"/><use href="#q" x="675.00" y="474.00"/><use href="#q" x="691.00" y="474.00"/><use href="#q" x="707.00" y="474.00"/><use href="#q" x="724.00" y="474.00"/><use href="#q" x="740.00" y="474.00"/><use href="#q" x="756.00" y="474.00"/><use href="#q" x="772.00" y="474.00"/><use href="#q" x="789.00" y="474.00"/><use href="#q" x="805.00" y="474.00"/><use href="#q" x="41.00" y="490.00"/><use href="#q" x="57.00" y="490.00"/><use href="#q" x="73.00" y="490.00"/><use href="#q" x="90.00" y="490.00"/><use href="#q" x="106.00" y="490.00"/><use href="#q" x="122.00" y="490.00"/><use href="#q" x="138.00" y="490.00"/><use href="#q" x="155.00" y="490.00"/><use href="#q" x="171.00" y="490.00"/><use href="#q" x="187.00" y="490.00"/><use href="#q" x="203.00" y="490.00"/><use href="#q" x="220.00" y="490.00"/><use href="#q" x="236.00" y="490.00"/><use href="#q" x="252.00" y="490.00"/><use href="#q" x="268.00" y="490.00"/><use href="#q" x="285.00" y="490.00"/><use href="#q" x="301.00" y="490.00"/><use href="#q" x="317.00" y="490.00"/><use href="#q" x="333.00" y="490.00"/><use href="#q" x="350.00" y="490.00"/><use href="#q" x="366.00" y="490.00"/><use href="#q" x="382.00" y="490.00"/><use href="#q" x="398.00" y="490.00"/><use href="#q" x="415.00" y="490.00"/><use href="#q" x="431.00" y="490.00"/><use href="#q" x="447.00" y="490.00"/><use href="#q" x="463.00" y="490.00"/><use href="#q" x="480.00" y="490.00"/><use href="#q" x="496.00" y="490.00"/><use href="#q" x="512.00" y="490.00"/><use href="#q" x="528.00" y="490.00"/><use href="#q" x="545.00" y="490.00"/><use href="#q" x="561.00" y="490.00"/><use href="#q" x="577.00" y="490.00"/><use href="#q" x="593.00" y="490.00"/><use href="#q" x="610.00" y="490.00"/><use href="#q" x="626.00" y="490.00"/><use href="#q" x="642.00" y="490.00"/><use href="#q" x="659.00" y="490.00"/><use href="#q" x="675.00" y="490.00"/><use href="#q" x="691.00" y="490.00"/><use href="#q" x="707.00" y="490.00"/><use href="#q" x="724.00" y="490.00"/><use href="#q" x="740.00" y="490.00"/><use href="#q" x="756.00" y="490.00"/><use href="#q" x="772.00" y="490.00"/><use href="#q" x="789.00" y="490.00"/><use href="#q" x="805.00" y="490.00"/><use href="#q" x="41.00" y="506.00"/><use href="#q" x="57.00" y="506.00"/><use href="#q" x="73.00" y="506.00"/><use href="#q" x="90.00" y="506.00"/><use href="#q" x="106.00" y="506.00"/><use href="#q" x="122.00" y="506.00"/><use href="#q" x="138.00" y="506.00"/><use href="#q" x="155.00" y="506.00"/><use href="#q" x="171.00" y="506.00"/><use href="#q" x="187.00" y="506.00"/><use href="#q" x="203.00" y="506.00"/><use href="#q" x="220.00" y="506.00"/><use href="#q" x="236.00" y="506.00"/><use href="#q" x="252.00" y="506.00"/><use href="#q" x="268.00" y="506.00"/><use href="#q" x="285.00" y="506.00"/><use href="#q" x="301.00" y="506.00"/><use href="#q" x="317.00" y="506.00"/><use href="#q" x="333.00" y="506.00"/><use href="#q" x="350.00" y="506.00"/><use href="#q" x="366.00" y="506.00"/><use href="#q" x="382.00" y="506.00"/><use href="#q" x="398.00" y="506.00"/><use href="#q" x="415.00" y="506.00"/><use href="#q" x="431.00" y="506.00"/><use href="#q" x="447.00" y="506.00"/><use href="#q" x="463.00" y="506.00"/><use href="#q" x="480.00" y="506.00"/><use href="#q" x="496.00" y="506.00"/><use href="#q" x="512.00" y="506.00"/><use href="#q" x="528.00" y="506.00"/><use href="#q" x="545.00" y="506.00"/><use href="#q" x="561.00" y="506.00"/><use href="#q" x="577.00" y="506.00"/><use href="#q" x="593.00" y="506.00"/><use href="#q" x="610.00" y="506.00"/><use href="#q" x="626.00" y="506.00"/><use href="#q" x="642.00" y="506.00"/><use href="#q" x="659.00" y="506.00"/><use href="#q" x="675.00" y="506.00"/><use href="#q" x="691.00" y="506.00"/><use href="#q" x="707.00" y="506.00"/><use href="#q" x="724.00" y="506.00"/><use href="#q" x="740.00" y="506.00"/><use href="#q" x="756.00" y="506.00"/><use href="#q" x="772.00" y="506.00"/><use href="#q" x="789.00" y="506.00"/><use href="#q" x="805.00" y="506.00"/><use href="#q" x="41.00" y="522.00"/><use href="#q" x="57.00" y="522.00"/><use href="#q" x="73.00" y="522.00"/><use href="#q" x="90.00" y="522.00"/><use href="#q" x="106.00" y="522.00"/><use href="#q" x="122.00" y="522.00"/><use href="#q" x="138.00" y="522.00"/><use href="#q" x="155.00" y="522.00"/><use href="#q" x="171.00" y="522.00"/><use href="#q" x="187.00" y="522.00"/><use href="#q" x="203.00" y="522.00"/><use href="#q" x="220.00" y="522.00"/><use href="#q" x="236.00" y="522.00"/><use href="#q" x="252.00" y="522.00"/><use href="#q" x="268.00" y="522.00"/><use href="#q" x="285.00" y="522.00"/><use href="#q" x="301.00" y="522.00"/><use href="#q" x="317.00" y="522.00"/><use href="#q" x="333.00" y="522.00"/><use href="#q" x="350.00" y="522.00"/><use href="#q" x="366.00" y="522.00"/><use href="#q" x="382.00" y="522.00"/><use href="#q" x="398.00" y="522.00"/><use href="#q" x="415.00" y="522.00"/><use href="#q" x="431.00" y="522.00"/><use href="#q" x="447.00" y="522.00"/><use href="#q" x="463.00" y="522.00"/><use href="#q" x="480.00" y="522.00"/><use href="#q" x="496.00" y="522.00"/><use href="#q" x="512.00" y="522.00"/><use href="#q" x="528.00" y="522.00"/><use href="#q" x="545.00" y="522.00"/><use href="#q" x="561.00" y="522.00"/><use href="#q" x="577.00" y="522.00"/><use href="#q" x="593.00" y="522.00"/><use href="#q" x="610.00" y="522.00"/><use href="#q" x="626.00" y="522.00"/><use href="#q" x="642.00" y="522.00"/><use href="#q" x="659.00" y="522.00"/><use href="#q" x="675.00" y="522.00"/><use href="#q" x="691.00" y="522.00"/><use href="#q" x="707.00" y="522.00"/><use href="#q" x="724.00" y="522.00"/><use href="#q" x="740.00" y="522.00"/><use href="#q" x="756.00" y="522.00"/><use href="#q" x="772.00" y="522.00"/><use href="#q" x="789.00" y="522.00"/><use href="#q" x="805.00" y="522.00"/><use href="#q" x="41.00" y="539.00"/><use href="#q" x="57.00" y="539.00"/><use href="#q" x="73.00" y="539.00"/><use href="#q" x="90.00" y="539.00"/><use href="#q" x="106.00" y="539.00"/><use href="#q" x="122.00" y="539.00"/><use href="#q" x="138.00" y="539.00"/><use href="#q" x="155.00" y="539.00"/><use href="#q" x="171.00" y="539.00"/><use href="#q" x="187.00" y="539.00"/><use href="#q" x="203.00" y="539.00"/><use href="#q" x="220.00" y="539.00"/><use href="#q" x="236.00" y="539.00"/><use href="#q" x="252.00" y="539.00"/><use href="#q" x="268.00" y="539.00"/><use href="#q" x="285.00" y="539.00"/><use href="#q" x="301.00" y="539.00"/><use href="#q" x="317.00" y="539.00"/><use href="#q" x="333.00" y="539.00"/><use href="#q" x="350.00" y="539.00"/><use href="#q" x="366.00" y="539.00"/><use href="#q" x="382.00" y="539.00"/><use href="#q" x="398.00" y="539.00"/><use href="#q" x="415.00" y="539.00"/><use href="#q" x="431.00" y="539.00"/><use href="#q" x="447.00" y="539.00"/><use href="#q" x="463.00" y="539.00"/><use href="#q" x="480.00" y="539.00"/><use href="#q" x="496.00" y="539.00"/><use href="#q" x="512.00" y="539.00"/><use href="#q" x="528.00" y="539.00"/><use href="#q" x="545.00" y="539.00"/><use href="#q" x="561.00" y="539.00"/><use href="#q" x="577.00" y="539.00"/><use href="#q" x="593.00" y="539.00"/><use href="#q" x="610.00" y="539.00"/><use href="#q" x="626.00" y="539.00"/><use href="#q" x="642.00" y="539.00"/><use href="#q" x="659.00" y="539.00"/><use href="#q" x="675.00" y="539.00"/><use href="#q" x="691.00" y="539.00"/><use href="#q" x="707.00" y="539.00"/><use href="#q" x="724.00" y="539.00"/><use href="#q" x="740.00" y="539.00"/><use href="#q" x="756.00" y="539.00"/><use href="#q" x="772.00" y="539.00"/><use href="#q" x="789.00" y="539.00"/><use href="#q" x="805.00" y="539.00"/><use href="#q" x="41.00" y="555.00"/><use href="#q" x="57.00" y="555.00"/><use href="#q" x="73.00" y="555.00"/><use href="#q" x="90.00" y="555.00"/><use href="#q" x="106.00" y="555.00"/><use href="#q" x="122.00" y="555.00"/><use href="#q" x="138.00" y="555.00"/><use href="#q" x="155.00" y="555.00"/><use href="#q" x="171.00" y="555.00"/><use href="#q" x="187.00" y="555.00"/><use href="#q" x="203.00" y="555.00"/><use href="#q" x="220.00" y="555.00"/><use href="#q" x="236.00" y="555.00"/><use href="#q" x="252.00" y="555.00"/><use href="#q" x="268.00" y="555.00"/><use href="#q" x="285.00" y="555.00"/><use href="#q" x="301.00" y="555.00"/><use href="#q" x="317.00" y="555.00"/><use href="#q" x="333.00" y="555.00"/><use href="#q" x="350.00" y="555.00"/><use href="#q" x="366.00" y="555.00"/><use href="#q" x="382.00" y="555.00"/><use href="#q" x="398.00" y="555.00"/><use href="#q" x="415.00" y="555.00"/><use href="#q" x="431.00" y="555.00"/><use href="#q" x="447.00" y="555.00"/><use href="#q" x="463.00" y="555.00"/><use href="#q" x="480.00" y="555.00"/><use href="#q" x="496.00" y="555.00"/><use href="#q" x="512.00" y="555.00"/><use href="#q" x="528.00" y="555.00"/><use href="#q" x="545.00" y="555.00"/><use href="#q" x="561.00" y="555.00"/><use href="#q" x="577.00" y="555.00"/><use href="#q" x="593.00" y="555.00"/><use href="#q" x="610.00" y="555.00"/><use href="#q" x="626.00" y="555.00"/><use href="#q" x="642.00" y="555.00"/><use href="#q" x="659.00" y="555.00"/><use href="#q" x="675.00" y="555.00"/><use href="#q" x="691.00" y="555.00"/><use href="#q" x="707.00" y="555.00"/><use href="#q" x="724.00" y="555.00"/><use href="#q" x="740.00" y="555.00"/><use href="#q" x="756.00" y="555.00"/><use href="#q" x="772.00" y="555.00"/><use href="#q" x="789.00" y="555.00"/><use href="#q" x="805.00" y="555.00"/><use href="#q" x="41.00" y="571.00"/><use href="#q" x="57.00" y="571.00"/><use href="#q" x="73.00" y="571.00"/><use href="#q" x="90.00" y="571.00"/><use href="#q" x="106.00" y="571.00"/><use href="#q" x="122.00" y="571.00"/><use href="#q" x="138.00" y="571.00"/><use href="#q" x="155.00" y="571.00"/><use href="#q" x="171.00" y="571.00"/><use href="#q" x="187.00" y="571.00"/><use href="#q" x="203.00" y="571.00"/><use href="#q" x="220.00" y="571.00"/><use href="#q" x="236.00" y="571.00"/><use href="#q" x="252.00" y="571.00"/><use href="#q" x="268.00" y="571.00"/><use href="#q" x="285.00" y="571.00"/><use href="#q" x="301.00" y="571.00"/><use href="#q" x="317.00" y="571.00"/><use href="#q" x="333.00" y="571.00"/><use href="#q" x="350.00" y="571.00"/><use href="#q" x="366.00" y="571.00"/><use href="#q" x="382.00" y="571.00"/><use href="#q" x="398.00" y="571.00"/><use href="#q" x="415.00" y="571.00"/><use href="#q" x="431.00" y="571.00"/><use href="#q" x="447.00" y="571.00"/><use href="#q" x="463.00" y="571.00"/><use href="#q" x="480.00" y="571.00"/><use href="#q" x="496.00" y="571.00"/><use href="#q" x="512.00" y="571.00"/><use href="#q" x="528.00" y="571.00"/><use href="#q" x="545.00" y="571.00"/><use href="#q" x="561.00" y="571.00"/><use href="#q" x="577.00" y="571.00"/><use href="#q" x="593.00" y="571.00"/><use href="#q" x="610.00" y="571.00"/><use href="#q" x="626.00" y="571.00"/><use href="#q" x="642.00" y="571.00"/><use href="#q" x="659.00" y="571.00"/><use href="#q" x="675.00" y="571.00"/><use href="#q" x="691.00" y="571.00"/><use href="#q" x="707.00" y="571.00"/><use href="#q" x="724.00" y="571.00"/><use href="#q" x="740.00" y="571.00"/><use href="#q" x="756.00" y="571.00"/><use href="#q" x="772.00" y="571.00"/><use href="#q" x="789.00" y="571.00"/><use href="#q" x="805.00" y="571.00"/><use href="#q" x="41.00" y="588.00"/><use href="#q" x="57.00" y="588.00"/><use href="#q" x="73.00" y="588.00"/><use href="#q" x="90.00" y="588.00"/><use href="#q" x="106.00" y="588.00"/><use href="#q" x="122.00" y="588.00"/><use href="#q" x="138.00" y="588.00"/><use href="#q" x="155.00" y="588.00"/><use href="#q" x="171.00" y="588.00"/><use href="#q" x="187.00" y="588.00"/><use href="#q" x="203.00" y="588.00"/><use href="#q" x="220.00" y="588.00"/><use href="#q" x="236.00" y="588.00"/><use href="#q" x="252.00" y="588.00"/><use href="#q" x="268.00" y="588.00"/><use href="#q" x="285.00" y="588.00"/><use href="#q" x="301.00" y="588.00"/><use href="#q" x="317.00" y="588.00"/><use href="#q" x="333.00" y="588.00"/><use href="#q" x="350.00" y="588.00"/><use href="#q" x="366.00" y="588.00"/><use href="#q" x="382.00" y="588.00"/><use href="#q" x="398.00" y="588.00"/><use href="#q" x="415.00" y="588.00"/><use href="#q" x="431.00" y="588.00"/><use href="#q" x="447.00" y="588.00"/><use href="#q" x="463.00" y="588.00"/><use href="#q" x="480.00" y="588.00"/><use href="#q" x="496.00" y="588.00"/><use href="#q" x="512.00" y="588.00"/><use href="#q" x="528.00" y="588.00"/><use href="#q" x="545.00" y="588.00"/><use href="#q" x="561.00" y="588.00"/><use href="#q" x="577.00" y="588.00"/><use href="#q" x="593.00" y="588.00"/><use href="#q" x="610.00" y="588.00"/><use href="#q" x="626.00" y="588.00"/><use href="#q" x="642.00" y="588.00"/><use href="#q" x="659.00" y="588.00"/><use href="#q" x="675.00" y="588.00"/><use href="#q" x="691.00" y="588.00"/><use href="#q" x="707.00" y="588.00"/><use href="#q" x="724.00" y="588.00"/><use href="#q" x="740.00" y="588.00"/><use href="#q" x="756.00" y="588.00"/><use href="#q" x="772.00" y="588.00"/><use href="#q" x="789.00" y="588.00"/><use href="#q" x="805.00" y="588.00"/></g>
<g fill="#c83434"><rect x="41.00" y="48.0" width="764.00" height="5"/><rect x="41.00" y="64.0" width="764.00" height="5"/><rect x="41.00" y="276.0" width="764.00" height="5"/><rect x="41.00" y="292.0" width="764.00" height="5"/><rect x="41.00" y="341.0" width="764.00" height="5"/><rect x="41.00" y="357.0" width="764.00" height="5"/><rect x="41.00" y="568.0" width="764.00" height="5"/><rect x="41.00" y="585.0" width="764.00" height="5"/><rect x="39.0" y="84.00" width="5" height="65.00"/><rect x="55.0" y="84.00" width="5" height="65.00"/><rect x="71.0" y="84.00" width="5" height="65.00"/><rect x="88.0" y="84.00" width="5" height="65.00"/><rect x="104.0" y="84.00" width="5" height="65.00"/><rect x="120.0" y="84.00" width="5" height="65.00"/><rect x="136.0" y="84.00" width="5" height="65.00"/><rect x="153.0" y="84.00" width="5" height="65.00"/><rect x="169.0" y="84.00" width="5" height="65.00"/><rect x="185.0" y="84.00" width="5" height="65.00"/><rect x="201.0" y="84.00" width="5" height="65.00"/><rect x="218.0" y="84.00" width="5" height="65.00"/><rect x="234.0" y="84.00" width="5" height="65.00"/><rect x="250.0" y="84.00" width="5" height="65.00"/><rect x="266.0" y="84.00" width="5" height="65.00"/><rect x="283.0" y="84.00" width="5" height="65.00"/><rect x="299.0" y="84.00" width="5" height="65.00"/><rect x="315.0" y="84.00" width="5" height="65.00"/><rect x="331.0" y="84.00" width="5" height="65.00"/><rect x="348.0" y="84.00" width="5" height="65.00"/><rect x="364.0" y="84.00" width="5" height="65.00"/><rect x="380.0" y="84.00" width="5" height="65.00"/><rect x="396.0" y="84.00" width="5" height="65.00"/><rect x="413.0" y="84.00" width="5" height="65.00"/><rect x="429.0" y="84.00" width="5" height="65.00"/><rect x="445.0" y="84.00" width="5" height="65.00"/><rect x="461.0" y="84.00" width="5" height="65.00"/><rect x="478.0" y="84.00" width="5" height="65.00"/><rect x="494.0" y="84.00" width="5" height="65.00"/><rect x="510.0" y="84.00" width="5" height="65.00"/><rect x="526.0" y="84.00" width="5" height="65.00"/><rect x="543.0" y="84.00" width="5" height="65.00"/><rect x="559.0" y="84.00" width="5" height="65.00"/><rect x="575.0" y="84.00" width="5" height="65.00"/><rect x="591.0" y="84.00" width="5" height="65.00"/><rect x="608.0" y="84.00" width="5" height="65.00"/><rect x="624.0" y="84.00" width="5" height="65.00"/><rect x="640.0" y="84.00" width="5" height="65.00"/><rect x="657.0" y="84.00" width="5" height="65.00"/><rect x="673.0" y="84.00" width="5" height="65.00"/><rect x="689.0" y="84.00" width="5" height="65.00"/><rect x="705.0" y="84.00" width="5" height="65.00"/><rect x="722.0" y="84.00" width="5" height="65.00"/><rect x="738.0" y="84.00" width="5" height="65.00"/><rect x="754.0" y="84.00" width="5" height="65.00"/><rect x="770.0" y="84.00" width="5" height="65.00"/><rect x="787.0" y="84.00" width="5" height="65.00"/><rect x="803.0" y="84.00" width="5" height="65.00"/><rect x="39.0" y="165.00" width="5" height="16.00"/><rect x="55.0" y="165.00" width="5" height="16.00"/><rect x="71.0" y="165.00" width="5" height="16.00"/><rect x="88.0" y="165.00" width="5" height="16.00"/><rect x="104.0" y="165.00" width="5" height="16.00"/><rect x="120.0" y="165.00" width="5" height="16.00"/><rect x="136.0" y="165.00" width="5" height="16.00"/><rect x="153.0" y="165.00" width="5" height="16.00"/><rect x="169.0" y="165.00" width="5" height="16.00"/><rect x="185.0" y="165.00" width="5" height="16.00"/><rect x="201.0" y="165.00" width="5" height="16.00"/><rect x="218.0" y="165.00" width="5" height="16.00"/><rect x="234.0" y="165.00" width="5" height="16.00"/><rect x="250.0" y="165.00" width="5" height="16.00"/><rect x="266.0" y="165.00" width="5" height="16.00"/><rect x="283.0" y="165.00" width="5" height="16.00"/><rect x="299.0" y="165.00" width="5" height="16.00"/><rect x="315.0" y="165.00" width="5" height="16.00"/><rect x="331.0" y="165.00" width="5" height="16.00"/><rect x="348.0" y="165.00" width="5" height="16.00"/><rect x="364.0" y="165.00" width="5" height="16.00"/><rect x="380.0" y="165.00" width="5" height="16.00"/><rect x="396.0" y="165.00" width="5" height="16.00"/><rect x="413.0" y="165.00" width="5" height="16.00"/><rect x="429.0" y="165.00" width="5" height="16.00"/><rect x="445.0" y="165.00" width="5" height="16.00"/><rect x="461.0" y="165.00" width="5" height="16.00"/><rect x="478.0" y="165.00" width="5" height="16.00"/><rect x="494.0" y="165.00" width="5" height="16.00"/><rect x="510.0" y="165.00" width="5" height="16.00"/><rect x="526.0" y="165.00" width="5" height="16.00"/><rect x="543.0" y="165.00" width="5" height="16.00"/><rect x="559.0" y="165.00" width="5" height="16.00"/><rect x="575.0" y="165.00" width="5" height="16.00"/><rect x="591.0" y="165.00" width="5" height="16.00"/><rect x="608.0" y="165.00" width="5" height="16.00"/><rect x="624.0" y="165.00" width="5" height="16.00"/><rect x="640.0" y="165.00" width="5" height="16.00"/><rect x="657.0" y="165.00" width="5" height="16.00"/><rect x="673.0" y="165.00" width="5" height="16.00"/><rect x="689.0" y="165.00" width="5" height="16.00"/><rect x="705.0" y="165.00" width="5" height="16.00"/><rect x="722.0" y="165.00" width="5" height="16.00"/><rect x="738.0" y="165.00" width="5" height="16.00"/><rect x="754.0" y="165.00" width="5" height="16.00"/><rect x="770.0" y="165.00" width="5" height="16.00"/><rect x="787.0" y="165.00" width="5" height="16.00"/><rect x="803.0" y="165.00" width="5" height="16.00"/><rect x="39.0" y="197.00" width="5" height="65.00"/><rect x="55.0" y="197.00" width="5" height="65.00"/><rect x="71.0" y="197.00" width="5" height="65.00"/><rect x="88.0" y="197.00" width="5" height="65.00"/><rect x="104.0" y="197.00" width="5" height="65.00"/><rect x="120.0" y="197.00" width="5" height="65.00"/><rect x="136.0" y="197.00" width="5" height="65.00"/><rect x="153.0" y="197.00" width="5" height="65.00"/><rect x="169.0" y="197.00" width="5" height="65.00"/><rect x="185.0" y="197.00" width="5" height="65.00"/><rect x="201.0" y="197.00" width="5" height="65.00"/><rect x="218.0" y="197.00" width="5" height="65.00"/><rect x="234.0" y="197.00" width="5" height="65.00"/><rect x="250.0" y="197.00" width="5" height="65.00"/><rect x="266.0" y="197.00" width="5" height="65.00"/><rect x="283.0" y="197.00" width="5" height="65.00"/><rect x="299.0" y="197.00" width="5" height="65.00"/><rect x="315.0" y="197.00" width="5" height="65.00"/><rect x="331.0" y="197.00" width="5" height="65.00"/><rect x="348.0" y="197.00" width="5" height="65.00"/><rect x="364.0" y="197.00" width="5" height="65.00"/><rect x="380.0" y="197.00" width="5" height="65.00"/><rect x="396.0" y="197.00" width="5" height="65.00"/><rect x="413.0" y="197.00" width="5" height="65.00"/><rect x="429.0" y="197.00" width="5" height="65.00"/><rect x="445.0" y="197.00" width="5" height="65.00"/><rect x="461.0" y="197.00" width="5" height="65.00"/><rect x="478.0" y="197.00" width="5" height="65.00"/><rect x="494.0" y="197.00" width="5" height="65.00"/><rect x="510.0" y="197.00" width="5" height="65.00"/><rect x="526.0" y="197.00" width="5" height="65.00"/><rect x="543.0" y="197.00" width="5" height="65.00"/><rect x="559.0" y="197.00" width="5" height="65.00"/><rect x="575.0" y="197.00" width="5" height="65.00"/><rect x="591.0" y="197.00" width="5" height="65.00"/><rect x="608.0" y="197.00" width="5" height="65.00"/><rect x="624.0" y="197.00" width="5" height="65.00"/><rect x="640.0" y="197.00" width="5" height="65.00"/><rect x="657.0" y="197.00" width="5" height="65.00"/><rect x="673.0" y="197.00" width="5" height="65.00"/><rect x="689.0" y="197.00" width="5" height="65.00"/><rect x="705.0" y="197.00" width="5" height="65.00"/><rect x="722.0" y="197.00" width="5" height="65.00"/><rect x="738.0" y="197.00" width="5" height="65.00"/><rect x="754.0" y="197.00" width="5" height="65.00"/><rect x="770.0" y="197.00" width="5" height="65.00"/><rect x="787.0" y="197.00" width="5" height="65.00"/><rect x="803.0" y="197.00" width="5" height="65.00"/><rect x="39.0" y="376.00" width="5" height="65.00"/><rect x="55.0" y="376.00" width="5" height="65.00"/><rect x="71.0" y="376.00" width="5" height="65.00"/><rect x="88.0" y="376.00" width="5" height="65.00"/><rect x="104.0" y="376.00" width="5" height="65.00"/><rect x="120.0" y="376.00" width="5" height="65.00"/><rect x="136.0" y="376.00" width="5" height="65.00"/><rect x="153.0" y="376.00" width="5" height="65.00"/><rect x="169.0" y="376.00" width="5" height="65.00"/><rect x="185.0" y="376.00" width="5" height="65.00"/><rect x="201.0" y="376.00" width="5" height="65.00"/><rect x="218.0" y="376.00" width="5" height="65.00"/><rect x="234.0" y="376.00" width="5" height="65.00"/><rect x="250.0" y="376.00" width="5" height="65.00"/><rect x="266.0" y="376.00" width="5" height="65.00"/><rect x="283.0" y="376.00" width="5" height="65.00"/><rect x="299.0" y="376.00" width="5" height="65.00"/><rect x="315.0" y="376.00" width="5" height="65.00"/><rect x="331.0" y="376.00" width="5" height="65.00"/><rect x="348.0" y="376.00" width="5" height="65.00"/><rect x="364.0" y="376.00" width="5" height="65.00"/><rect x="380.0" y="376.00" width="5" height="65.00"/><rect x="396.0" y="376.00" width="5" height="65.00"/><rect x="413.0" y="376.00" width="5" height="65.00"/><rect x="429.0" y="376.00" width="5" height="65.00"/><rect x="445.0" y="376.00" width="5" height="65.00"/><rect x="461.0" y="376.00" width="5" height="65.00"/><rect x="478.0" y="376.00" width="5" height="65.00"/><rect x="494.0" y="376.00" width="5" height="65.00"/><rect x="510.0" y="376.00" width="5" height="65.00"/><rect x="526.0" y="376.00" width="5" height="65.00"/><rect x="543.0" y="376.00" width="5" height="65.00"/><rect x="559.0" y="376.00" width="5" height="65.00"/><rect x="575.0" y="376.00" width="5" height="65.00"/><rect x="591.0" y="376.00" width="5" height="65.00"/><rect x="608.0" y="376.00" width="5" height="65.00"/><rect x="624.0" y="376.00" width="5" height="65.00"/><rect x="640.0" y="376.00" width="5" height="65.00"/><rect x="657.0" y="376.00" width="5" height="65.00"/><rect x="673.0" y="376.00" width="5" height="65.00"/><rect x="689.0" y="376.00" width="5" height="65.00"/><rect x="705.0" y="376.00" width="5" height="65.00"/><rect x="722.0" y="376.00" width="5" height="65.00"/><rect x="738.0" y="376.00" width="5" height="65.00"/><rect x="754.0" y="376.00" width="5" height="65.00"/><rect x="770.0" y="376.00" width="5" height="65.00"/><rect x="787.0" y="376.00" width="5" height="65.00"/><rect x="803.0" y="376.00" width="5" height="65.00"/><rect x="39.0" y="457.00" width="5" height="17.00"/><rect x="55.0" y="457.00" width="5" height="17.00"/><rect x="71.0" y="457.00" width="5" height="17.00"/><rect x="88.0" y="457.00" width="5" height="17.00"/><rect x="104.0" y="457.00" width="5" height="17.00"/><rect x="120.0" y="457.00" width="5" height="17.00"/><rect x="136.0" y="457.00" width="5" height="17.00"/><rect x="153.0" y="457.00" width="5" height="17.00"/><rect x="169.0" y="457.00" width="5" height="17.00"/><rect x="185.0" y="457.00" width="5" height="17.00"/><rect x="201.0" y="457.00" width="5" height="17.00"/><rect x="218.0" y="457.00" width="5" height="17.00"/><rect x="234.0" y="457.00" width="5" height="17.00"/><rect x="250.0" y="457.00" width="5" height="17.00"/><rect x="266.0" y="457.00" width="5" height="17.00"/><rect x="283.0" y="457.00" width="5" height="17.00"/><rect x="299.0" y="457.00" width="5" height="17.00"/><rect x="315.0" y="457.00" width="5" height="17.00"/><rect x="331.0" y="457.00" width="5" height="17.00"/><rect x="348.0" y="457.00" width="5" height="17.00"/><rect x="364.0" y="457.00" width="5" height="17.00"/><rect x="380.0" y="457.00" width="5" height="17.00"/><rect x="396.0" y="457.00" width="5" height="17.00"/><rect x="413.0" y="457.00" width="5" height="17.00"/><rect x="429.0" y="457.00" width="5" height="17.00"/><rect x="445.0" y="457.00" width="5" height="17.00"/><rect x="461.0" y="457.00" width="5" height="17.00"/><rect x="478.0" y="457.00" width="5" height="17.00"/><rect x="494.0" y="457.00" width="5" height="17.00"/><rect x="510.0" y="457.00" width="5" height="17.00"/><rect x="526.0" y="457.00" width="5" height="17.00"/><rect x="543.0" y="457.00" width="5" height="17.00"/><rect x="559.0" y="457.00" width="5" height="17.00"/><rect x="575.0" y="457.00" width="5" height="17.00"/><rect x="591.0" y="457.00" width="5" height="17.00"/><rect x="608.0" y="457.00" width="5" height="17.00"/><rect x="624.0" y="457.00" width="5" height="17.00"/><rect x="640.0" y="457.00" width="5" height="17.00"/><rect x="657.0" y="457.00" width="5" height="17.00"/><rect x="673.0" y="457.00" width="5" height="17.00"/><rect x="689.0" y="457.00" width="5" height="17.00"/><rect x="705.0" y="457.00" width="5" height="17.00"/><rect x="722.0" y="457.00" width="5" height="17.00"/><rect x="738.0" y="457.00" width="5" height="17.00"/><rect x="754.0" y="457.00" width="5" height="17.00"/><rect x="770.0" y="457.00" width="5" height="17.00"/><rect x="787.0" y="457.00" width="5" height="17.00"/><rect x="803.0" y="457.00" width="5" height="17.00"/><rect x="39.0" y="490.00" width="5" height="65.00"/><rect x="55.0" y="490.00" width="5" height="65.00"/><rect x="71.0" y="490.00" width="5" height="65.00"/><rect x="88.0" y="490.00" width="5" height="65.00"/><rect x="104.0" y="490.00" width="5" height="65.00"/><rect x="120.0" y="490.00" width="5" height="65.00"/><rect x="136.0" y="490.00" width="5" height="65.00"/><rect x="153.0" y="490.00" width="5" height="65.00"/><rect x="169.0" y="490.00" width="5" height="65.00"/><rect x="185.0" y="490.00" width="5" height="65.00"/><rect x="201.0" y="490.00" width="5" height="65.00"/><rect x="218.0" y="490.00" width="5" height="65.00"/><rect x="234.0" y="490.00" width="5" height="65.00"/><rect x="250.0" y="490.00" width="5" height="65.00"/><rect x="266.0" y="490.00" width="5" height="65.00"/><rect x="283.0" y="490.00" width="5" height="65.00"/><rect x="299.0" y="490.00" width="5" height="65.00"/><rect x="315.0" y="490.00" width="5" height="65.00"/><rect x="331.0" y="490.00" width="5" height="65.00"/><rect x="348.0" y="490.00" width="5" height="65.00"/><rect x="364.0" y="490.00" width="5" height="65.00"/><rect x="380.0" y="490.00" width="5" height="65.00"/><rect x="396.0" y="490.00" width="5" height="65.00"/><rect x="413.0" y="490.00" width="5" height="65.00"/><rect x="429.0" y="490.00" width="5" height="65.00"/><rect x="445.0" y="490.00" width="5" height="65.00"/><rect x="461.0" y="490.00" width="5" height="65.00"/><rect x="478.0" y="490.00" width="5" height="65.00"/><rect x="494.0" y="490.00" width="5" height="65.00"/><rect x="510.0" y="490.00" width="5" height="65.00"/><rect x="526.0" y="490.00" width="5" height="65.00"/><rect x="543.0" y="490.00" width="5" height="65.00"/><rect x="559.0" y="490.00" width="5" height="65.00"/><rect x="575.0" y="490.00" width="5" height="65.00"/><rect x="591.0" y="490.00" width="5" height="65.00"/><rect x="608.0" y="490.00" width="5" height="65.00"/><rect x="624.0" y="490.00" width="5" height="65.00"/><rect x="640.0" y="490.00" width="5" height="65.00"/><rect x="657.0" y="490.00" width="5" height="65.00"/><rect x="673.0" y="490.00" width="5" height="65.00"/><rect x="689.0" y="490.00" width="5" height="65.00"/><rect x="705.0" y="490.00" width="5" height="65.00"/><rect x="722.0" y="490.00" width="5" height="65.00"/><rect x="738.0" y="490.00" width="5" height="65.00"/><rect x="754.0" y="490.00" width="5" height="65.00"/><rect x="770.0" y="490.00" width="5" height="65.00"/><rect x="787.0" y="490.00" width="5" height="65.00"/><rect x="803.0" y="490.00" width="5" height="65.00"/></g>
<g fill="#d4cad8" shape-rendering="crispEdges"><rect x="32" y="43" width="781" height="1"/><rect x="32" y="59" width="781" height="1"/><rect x="32" y="43" width="1" height="17"/><rect x="812" y="43" width="1" height="17"/><rect x="32" y="59" width="781" height="1"/><rect x="32" y="75" width="781" height="1"/><rect x="32" y="59" width="1" height="17"/><rect x="812" y="59" width="1" height="17"/><rect x="32" y="270" width="781" height="1"/><rect x="32" y="286" width="781" height="1"/><rect x="32" y="270" width="1" height="17"/><rect x="812" y="270" width="1" height="17"/><rect x="32" y="286" width="781" height="1"/><rect x="32" y="303" width="781" height="1"/><rect x="32" y="286" width="1" height="18"/><rect x="812" y="286" width="1" height="18"/><rect x="32" y="335" width="781" height="1"/><rect x="32" y="351" width="781" height="1"/><rect x="32" y="335" width="1" height="17"/><rect x="812" y="335" width="1" height="17"/><rect x="32" y="351" width="781" height="1"/><rect x="32" y="368" width="781" height="1"/><rect x="32" y="351" width="1" height="18"/><rect x="812" y="351" width="1" height="18"/><rect x="32" y="563" width="781" height="1"/><rect x="32" y="579" width="781" height="1"/><rect x="32" y="563" width="1" height="17"/><rect x="812" y="563" width="1" height="17"/><rect x="32" y="579" width="781" height="1"/><rect x="32" y="595" width="781" height="1"/><rect x="32" y="579" width="1" height="17"/><rect x="812" y="579" width="1" height="17"/><rect x="32" y="156" width="781" height="1"/><rect x="32" y="189" width="781" height="1"/><rect x="32" y="449" width="781" height="1"/><rect x="32" y="481" width="781" height="1"/></g>
<g><use href="#p" x="41.00" y="51.00"/><use href="#p" x="57.00" y="51.00"/><use href="#p" x="73.00" y="51.00"/><use href="#p" x="90.00" y="51.00"/><use href="#p" x="106.00" y="51.00"/><use href="#p" x="122.00" y="51.00"/><use href="#p" x="138.00" y="51.00"/><use href="#p" x="155.00" y="51.00"/><use href="#p" x="171.00" y="51.00"/><use href="#p" x="187.00" y="51.00"/><use href="#p" x="203.00" y="51.00"/><use href="#p" x="220.00" y="51.00"/><use href="#p" x="236.00" y="51.00"/><use href="#p" x="252.00" y="51.00"/><use href="#p" x="268.00" y="51.00"/><use href="#p" x="285.00" y="51.00"/><use href="#p" x="301.00" y="51.00"/><use href="#p" x="317.00" y="51.00"/><use href="#p" x="333.00" y="51.00"/><use href="#p" x="350.00" y="51.00"/><use href="#p" x="366.00" y="51.00"/><use href="#p" x="382.00" y="51.00"/><use href="#p" x="398.00" y="51.00"/><use href="#p" x="415.00" y="51.00"/><use href="#p" x="431.00" y="51.00"/><use href="#p" x="447.00" y="51.00"/><use href="#p" x="463.00" y="51.00"/><use href="#p" x="480.00" y="51.00"/><use href="#p" x="496.00" y="51.00"/><use href="#p" x="512.00" y="51.00"/><use href="#p" x="528.00" y="51.00"/><use href="#p" x="545.00" y="51.00"/><use href="#p" x="561.00" y="51.00"/><use href="#p" x="577.00" y="51.00"/><use href="#p" x="593.00" y="51.00"/><use href="#p" x="610.00" y="51.00"/><use href="#p" x="626.00" y="51.00"/><use href="#p" x="642.00" y="51.00"/><use href="#p" x="659.00" y="51.00"/><use href="#p" x="675.00" y="51.00"/><use href="#p" x="691.00" y="51.00"/><use href="#p" x="707.00" y="51.00"/><use href="#p" x="724.00" y="51.00"/><use href="#p" x="740.00" y="51.00"/><use href="#p" x="756.00" y="51.00"/><use href="#p" x="772.00" y="51.00"/><use href="#p" x="789.00" y="51.00"/><use href="#p" x="805.00" y="51.00"/><use href="#p" x="41.00" y="67.00"/><use href="#p" x="57.00" y="67.00"/><use href="#p" x="73.00" y="67.00"/><use href="#p" x="90.00" y="67.00"/><use href="#p" x="106.00" y="67.00"/><use href="#p" x="122.00" y="67.00"/><use href="#p" x="138.00" y="67.00"/><use href="#p" x="155.00" y="67.00"/><use href="#p" x="171.00" y="67.00"/><use href="#p" x="187.00" y="67.00"/><use href="#p" x="203.00" y="67.00"/><use href="#p" x="220.00" y="67.00"/><use href="#p" x="236.00" y="67.00"/><use href="#p" x="252.00" y="67.00"/><use href="#p" x="268.00" y="67.00"/><use href="#p" x="285.00" y="67.00"/><use href="#p" x="301.00" y="67.00"/><use href="#p" x="317.00" y="67.00"/><use href="#p" x="333.00" y="67.00"/><use href="#p" x="350.00" y="67.00"/><use href="#p" x="366.00" y="67.00"/><use href="#p" x="382.00" y="67.00"/><use href="#p" x="398.00" y="67.00"/><use href="#p" x="415.00" y="67.00"/><use href="#p" x="431.00" y="67.00"/><use href="#p" x="447.00" y="67.00"/><use href="#p" x="463.00" y="67.00"/><use href="#p" x="480.00" y="67.00"/><use href="#p" x="496.00" y="67.00"/><use href="#p" x="512.00" y="67.00"/><use href="#p" x="528.00" y="67.00"/><use href="#p" x="545.00" y="67.00"/><use href="#p" x="561.00" y="67.00"/><use href="#p" x="577.00" y="67.00"/><use href="#p" x="593.00" y="67.00"/><use href="#p" x="610.00" y="67.00"/><use href="#p" x="626.00" y="67.00"/><use href="#p" x="642.00" y="67.00"/><use href="#p" x="659.00" y="67.00"/><use href="#p" x="675.00" y="67.00"/><use href="#p" x="691.00" y="67.00"/><use href="#p" x="707.00" y="67.00"/><use href="#p" x="724.00" y="67.00"/><use href="#p" x="740.00" y="67.00"/><use href="#p" x="756.00" y="67.00"/><use href="#p" x="772.00" y="67.00"/><use href="#p" x="789.00" y="67.00"/><use href="#p" x="805.00" y="67.00"/><use href="#p" x="41.00" y="84.00"/><use href="#p" x="57.00" y="84.00"/><use href="#p" x="73.00" y="84.00"/><use href="#p" x="90.00" y="84.00"/><use href="#p" x="106.00" y="84.00"/><use href="#p" x="122.00" y="84.00"/><use href="#p" x="138.00" y="84.00"/><use href="#p" x="155.00" y="84.00"/><use href="#p" x="171.00" y="84.00"/><use href="#p" x="187.00" y="84.00"/><use href="#p" x="203.00" y="84.00"/><use href="#p" x="220.00" y="84.00"/><use href="#p" x="236.00" y="84.00"/><use href="#p" x="252.00" y="84.00"/><use href="#p" x="268.00" y="84.00"/><use href="#p" x="285.00" y="84.00"/><use href="#p" x="301.00" y="84.00"/><use href="#p" x="317.00" y="84.00"/><use href="#p" x="333.00" y="84.00"/><use href="#p" x="350.00" y="84.00"/><use href="#p" x="366.00" y="84.00"/><use href="#p" x="382.00" y="84.00"/><use href="#p" x="398.00" y="84.00"/><use href="#p" x="415.00" y="84.00"/><use href="#p" x="431.00" y="84.00"/><use href="#p" x="447.00" y="84.00"/><use href="#p" x="463.00" y="84.00"/><use href="#p" x="480.00" y="84.00"/><use href="#p" x="496.00" y="84.00"/><use href="#p" x="512.00" y="84.00"/><use href="#p" x="528.00" y="84.00"/><use href="#p" x="545.00" y="84.00"/><use href="#p" x="561.00" y="84.00"/><use href="#p" x="577.00" y="84.00"/><use href="#p" x="593.00" y="84.00"/><use href="#p" x="610.00" y="84.00"/><use href="#p" x="626.00" y="84.00"/><use href="#p" x="642.00" y="84.00"/><use href="#p" x="659.00" y="84.00"/><use href="#p" x="675.00" y="84.00"/><use href="#p" x="691.00" y="84.00"/><use href="#p" x="707.00" y="84.00"/><use href="#p" x="724.00" y="84.00"/><use href="#p" x="740.00" y="84.00"/><use href="#p" x="756.00" y="84.00"/><use href="#p" x="772.00" y="84.00"/><use href="#p" x="789.00" y="84.00"/><use href="#p" x="805.00" y="84.00"/><use href="#p" x="41.00" y="100.00"/><use href="#p" x="57.00" y="100.00"/><use href="#p" x="73.00" y="100.00"/><use href="#p" x="90.00" y="100.00"/><use href="#p" x="106.00" y="100.00"/><use href="#p" x="122.00" y="100.00"/><use href="#p" x="138.00" y="100.00"/><use href="#p" x="155.00" y="100.00"/><use href="#p" x="171.00" y="100.00"/><use href="#p" x="187.00" y="100.00"/><use href="#p" x="203.00" y="100.00"/><use href="#p" x="220.00" y="100.00"/><use href="#p" x="236.00" y="100.00"/><use href="#p" x="252.00" y="100.00"/><use href="#p" x="268.00" y="100.00"/><use href="#p" x="285.00" y="100.00"/><use href="#p" x="301.00" y="100.00"/><use href="#p" x="317.00" y="100.00"/><use href="#p" x="333.00" y="100.00"/><use href="#p" x="350.00" y="100.00"/><use href="#p" x="366.00" y="100.00"/><use href="#p" x="382.00" y="100.00"/><use href="#p" x="398.00" y="100.00"/><use href="#p" x="415.00" y="100.00"/><use href="#p" x="431.00" y="100.00"/><use href="#p" x="447.00" y="100.00"/><use href="#p" x="463.00" y="100.00"/><use href="#p" x="480.00" y="100.00"/><use href="#p" x="496.00" y="100.00"/><use href="#p" x="512.00" y="100.00"/><use href="#p" x="528.00" y="100.00"/><use href="#p" x="545.00" y="100.00"/><use href="#p" x="561.00" y="100.00"/><use href="#p" x="577.00" y="100.00"/><use href="#p" x="593.00" y="100.00"/><use href="#p" x="610.00" y="100.00"/><use href="#p" x="626.00" y="100.00"/><use href="#p" x="642.00" y="100.00"/><use href="#p" x="659.00" y="100.00"/><use href="#p" x="675.00" y="100.00"/><use href="#p" x="691.00" y="100.00"/><use href="#p" x="707.00" y="100.00"/><use href="#p" x="724.00" y="100.00"/><use href="#p" x="740.00" y="100.00"/><use href="#p" x="756.00" y="100.00"/><use href="#p" x="772.00" y="100.00"/><use href="#p" x="789.00" y="100.00"/><use href="#p" x="805.00" y="100.00"/><use href="#p" x="41.00" y="116.00"/><use href="#p" x="57.00" y="116.00"/><use href="#p" x="73.00" y="116.00"/><use href="#p" x="90.00" y="116.00"/><use href="#p" x="106.00" y="116.00"/><use href="#p" x="122.00" y="116.00"/><use href="#p" x="138.00" y="116.00"/><use href="#p" x="155.00" y="116.00"/><use href="#p" x="171.00" y="116.00"/><use href="#p" x="187.00" y="116.00"/><use href="#p" x="203.00" y="116.00"/><use href="#p" x="220.00" y="116.00"/><use href="#p" x="236.00" y="116.00"/><use href="#p" x="252.00" y="116.00"/><use href="#p" x="268.00" y="116.00"/><use href="#p" x="285.00" y="116.00"/><use href="#p" x="301.00" y="116.00"/><use href="#p" x="317.00" y="116.00"/><use href="#p" x="333.00" y="116.00"/><use href="#p" x="350.00" y="116.00"/><use href="#p" x="366.00" y="116.00"/><use href="#p" x="382.00" y="116.00"/><use href="#p" x="398.00" y="116.00"/><use href="#p" x="415.00" y="116.00"/><use href="#p" x="431.00" y="116.00"/><use href="#p" x="447.00" y="116.00"/><use href="#p" x="463.00" y="116.00"/><use href="#p" x="480.00" y="116.00"/><use href="#p" x="496.00" y="116.00"/><use href="#p" x="512.00" y="116.00"/><use href="#p" x="528.00" y="116.00"/><use href="#p" x="545.00" y="116.00"/><use href="#p" x="561.00" y="116.00"/><use href="#p" x="577.00" y="116.00"/><use href="#p" x="593.00" y="116.00"/><use href="#p" x="610.00" y="116.00"/><use href="#p" x="626.00" y="116.00"/><use href="#p" x="642.00" y="116.00"/><use href="#p" x="659.00" y="116.00"/><use href="#p" x="675.00" y="116.00"/><use href="#p" x="691.00" y="116.00"/><use href="#p" x="707.00" y="116.00"/><use href="#p" x="724.00" y="116.00"/><use href="#p" x="740.00" y="116.00"/><use href="#p" x="756.00" y="116.00"/><use href="#p" x="772.00" y="116.00"/><use href="#p" x="789.00" y="116.00"/><use href="#p" x="805.00" y="116.00"/><use href="#p" x="41.00" y="132.00"/><use href="#p" x="57.00" y="132.00"/><use href="#p" x="73.00" y="132.00"/><use href="#p" x="90.00" y="132.00"/><use href="#p" x="106.00" y="132.00"/><use href="#p" x="122.00" y="132.00"/><use href="#p" x="138.00" y="132.00"/><use href="#p" x="155.00" y="132.00"/><use href="#p" x="171.00" y="132.00"/><use href="#p" x="187.00" y="132.00"/><use href="#p" x="203.00" y="132.00"/><use href="#p" x="220.00" y="132.00"/><use href="#p" x="236.00" y="132.00"/><use href="#p" x="252.00" y="132.00"/><use href="#p" x="268.00" y="132.00"/><use href="#p" x="285.00" y="132.00"/><use href="#p" x="301.00" y="132.00"/><use href="#p" x="317.00" y="132.00"/><use href="#p" x="333.00" y="132.00"/><use href="#p" x="350.00" y="132.00"/><use href="#p" x="366.00" y="132.00"/><use href="#p" x="382.00" y="132.00"/><use href="#p" x="398.00" y="132.00"/><use href="#p" x="415.00" y="132.00"/><use href="#p" x="431.00" y="132.00"/><use href="#p" x="447.00" y="132.00"/><use href="#p" x="463.00" y="132.00"/><use href="#p" x="480.00" y="132.00"/><use href="#p" x="496.00" y="132.00"/><use href="#p" x="512.00" y="132.00"/><use href="#p" x="528.00" y="132.00"/><use href="#p" x="545.00" y="132.00"/><use href="#p" x="561.00" y="132.00"/><use href="#p" x="577.00" y="132.00"/><use href="#p" x="593.00" y="132.00"/><use href="#p" x="610.00" y="132.00"/><use href="#p" x="626.00" y="132.00"/><use href="#p" x="642.00" y="132.00"/><use href="#p" x="659.00" y="132.00"/><use href="#p" x="675.00" y="132.00"/><use href="#p" x="691.00" y="132.00"/><use href="#p" x="707.00" y="132.00"/><use href="#p" x="724.00" y="132.00"/><use href="#p" x="740.00" y="132.00"/><use href="#p" x="756.00" y="132.00"/><use href="#p" x="772.00" y="132.00"/><use href="#p" x="789.00" y="132.00"/><use href="#p" x="805.00" y="132.00"/><use href="#p" x="41.00" y="149.00"/><use href="#p" x="57.00" y="149.00"/><use href="#p" x="73.00" y="149.00"/><use href="#p" x="90.00" y="149.00"/><use href="#p" x="106.00" y="149.00"/><use href="#p" x="122.00" y="149.00"/><use href="#p" x="138.00" y="149.00"/><use href="#p" x="155.00" y="149.00"/><use href="#p" x="171.00" y="149.00"/><use href="#p" x="187.00" y="149.00"/><use href="#p" x="203.00" y="149.00"/><use href="#p" x="220.00" y="149.00"/><use href="#p" x="236.00" y="149.00"/><use href="#p" x="252.00" y="149.00"/><use href="#p" x="268.00" y="149.00"/><use href="#p" x="285.00" y="149.00"/><use href="#p" x="301.00" y="149.00"/><use href="#p" x="317.00" y="149.00"/><use href="#p" x="333.00" y="149.00"/><use href="#p" x="350.00" y="149.00"/><use href="#p" x="366.00" y="149.00"/><use href="#p" x="382.00" y="149.00"/><use href="#p" x="398.00" y="149.00"/><use href="#p" x="415.00" y="149.00"/><use href="#p" x="431.00" y="149.00"/><use href="#p" x="447.00" y="149.00"/><use href="#p" x="463.00" y="149.00"/><use href="#p" x="480.00" y="149.00"/><use href="#p" x="496.00" y="149.00"/><use href="#p" x="512.00" y="149.00"/><use href="#p" x="528.00" y="149.00"/><use href="#p" x="545.00" y="149.00"/><use href="#p" x="561.00" y="149.00"/><use href="#p" x="577.00" y="149.00"/><use href="#p" x="593.00" y="149.00"/><use href="#p" x="610.00" y="149.00"/><use href="#p" x="626.00" y="149.00"/><use href="#p" x="642.00" y="149.00"/><use href="#p" x="659.00" y="149.00"/><use href="#p" x="675.00" y="149.00"/><use href="#p" x="691.00" y="149.00"/><use href="#p" x="707.00" y="149.00"/><use href="#p" x="724.00" y="149.00"/><use href="#p" x="740.00" y="149.00"/><use href="#p" x="756.00" y="149.00"/><use href="#p" x="772.00" y="149.00"/><use href="#p" x="789.00" y="149.00"/><use href="#p" x="805.00" y="149.00"/><use href="#p" x="41.00" y="165.00"/><use href="#p" x="57.00" y="165.00"/><use href="#p" x="73.00" y="165.00"/><use href="#p" x="90.00" y="165.00"/><use href="#p" x="106.00" y="165.00"/><use href="#p" x="122.00" y="165.00"/><use href="#p" x="138.00" y="165.00"/><use href="#p" x="155.00" y="165.00"/><use href="#p" x="171.00" y="165.00"/><use href="#p" x="187.00" y="165.00"/><use href="#p" x="203.00" y="165.00"/><use href="#p" x="220.00" y="165.00"/><use href="#p" x="236.00" y="165.00"/><use href="#p" x="252.00" y="165.00"/><use href="#p" x="268.00" y="165.00"/><use href="#p" x="285.00" y="165.00"/><use href="#p" x="301.00" y="165.00"/><use href="#p" x="317.00" y="165.00"/><use href="#p" x="333.00" y="165.00"/><use href="#p" x="350.00" y="165.00"/><use href="#p" x="366.00" y="165.00"/><use href="#p" x="382.00" y="165.00"/><use href="#p" x="398.00" y="165.00"/><use href="#p" x="415.00" y="165.00"/><use href="#p" x="431.00" y="165.00"/><use href="#p" x="447.00" y="165.00"/><use href="#p" x="463.00" y="165.00"/><use href="#p" x="480.00" y="165.00"/><use href="#p" x="496.00" y="165.00"/><use href="#p" x="512.00" y="165.00"/><use href="#p" x="528.00" y="165.00"/><use href="#p" x="545.00" y="165.00"/><use href="#p" x="561.00" y="165.00"/><use href="#p" x="577.00" y="165.00"/><use href="#p" x="593.00" y="165.00"/><use href="#p" x="610.00" y="165.00"/><use href="#p" x="626.00" y="165.00"/><use href="#p" x="642.00" y="165.00"/><use href="#p" x="659.00" y="165.00"/><use href="#p" x="675.00" y="165.00"/><use href="#p" x="691.00" y="165.00"/><use href="#p" x="707.00" y="165.00"/><use href="#p" x="724.00" y="165.00"/><use href="#p" x="740.00" y="165.00"/><use href="#p" x="756.00" y="165.00"/><use href="#p" x="772.00" y="165.00"/><use href="#p" x="789.00" y="165.00"/><use href="#p" x="805.00" y="165.00"/><use href="#p" x="41.00" y="181.00"/><use href="#p" x="57.00" y="181.00"/><use href="#p" x="73.00" y="181.00"/><use href="#p" x="90.00" y="181.00"/><use href="#p" x="106.00" y="181.00"/><use href="#p" x="122.00" y="181.00"/><use href="#p" x="138.00" y="181.00"/><use href="#p" x="155.00" y="181.00"/><use href="#p" x="171.00" y="181.00"/><use href="#p" x="187.00" y="181.00"/><use href="#p" x="203.00" y="181.00"/><use href="#p" x="220.00" y="181.00"/><use href="#p" x="236.00" y="181.00"/><use href="#p" x="252.00" y="181.00"/><use href="#p" x="268.00" y="181.00"/><use href="#p" x="285.00" y="181.00"/><use href="#p" x="301.00" y="181.00"/><use href="#p" x="317.00" y="181.00"/><use href="#p" x="333.00" y="181.00"/><use href="#p" x="350.00" y="181.00"/><use href="#p" x="366.00" y="181.00"/><use href="#p" x="382.00" y="181.00"/><use href="#p" x="398.00" y="181.00"/><use href="#p" x="415.00" y="181.00"/><use href="#p" x="431.00" y="181.00"/><use href="#p" x="447.00" y="181.00"/><use href="#p" x="463.00" y="181.00"/><use href="#p" x="480.00" y="181.00"/><use href="#p" x="496.00" y="181.00"/><use href="#p" x="512.00" y="181.00"/><use href="#p" x="528.00" y="181.00"/><use href="#p" x="545.00" y="181.00"/><use href="#p" x="561.00" y="181.00"/><use href="#p" x="577.00" y="181.00"/><use href="#p" x="593.00" y="181.00"/><use href="#p" x="610.00" y="181.00"/><use href="#p" x="626.00" y="181.00"/><use href="#p" x="642.00" y="181.00"/><use href="#p" x="659.00" y="181.00"/><use href="#p" x="675.00" y="181.00"/><use href="#p" x="691.00" y="181.00"/><use href="#p" x="707.00" y="181.00"/><use href="#p" x="724.00" y="181.00"/><use href="#p" x="740.00" y="181.00"/><use href="#p" x="756.00" y="181.00"/><use href="#p" x="772.00" y="181.00"/><use href="#p" x="789.00" y="181.00"/><use href="#p" x="805.00" y="181.00"/><use href="#p" x="41.00" y="197.00"/><use href="#p" x="57.00" y="197.00"/><use href="#p" x="73.00" y="197.00"/><use href="#p" x="90.00" y="197.00"/><use href="#p" x="106.00" y="197.00"/><use href="#p" x="122.00" y="197.00"/><use href="#p" x="138.00" y="197.00"/><use href="#p" x="155.00" y="197.00"/><use href="#p" x="171.00" y="197.00"/><use href="#p" x="187.00" y="197.00"/><use href="#p" x="203.00" y="197.00"/><use href="#p" x="220.00" y="197.00"/><use href="#p" x="236.00" y="197.00"/><use href="#p" x="252.00" y="197.00"/><use href="#p" x="268.00" y="197.00"/><use href="#p" x="285.00" y="197.00"/><use href="#p" x="301.00" y="197.00"/><use href="#p" x="317.00" y="197.00"/><use href="#p" x="333.00" y="197.00"/><use href="#p" x="350.00" y="197.00"/><use href="#p" x="366.00" y="197.00"/><use href="#p" x="382.00" y="197.00"/><use href="#p" x="398.00" y="197.00"/><use href="#p" x="415.00" y="197.00"/><use href="#p" x="431.00" y="197.00"/><use href="#p" x="447.00" y="197.00"/><use href="#p" x="463.00" y="197.00"/><use href="#p" x="480.00" y="197.00"/><use href="#p" x="496.00" y="197.00"/><use href="#p" x="512.00" y="197.00"/><use href="#p" x="528.00" y="197.00"/><use href="#p" x="545.00" y="197.00"/><use href="#p" x="561.00" y="197.00"/><use href="#p" x="577.00" y="197.00"/><use href="#p" x="593.00" y="197.00"/><use href="#p" x="610.00" y="197.00"/><use href="#p" x="626.00" y="197.00"/><use href="#p" x="642.00" y="197.00"/><use href="#p" x="659.00" y="197.00"/><use href="#p" x="675.00" y="197.00"/><use href="#p" x="691.00" y="197.00"/><use href="#p" x="707.00" y="197.00"/><use href="#p" x="724.00" y="197.00"/><use href="#p" x="740.00" y="197.00"/><use href="#p" x="756.00" y="197.00"/><use href="#p" x="772.00" y="197.00"/><use href="#p" x="789.00" y="197.00"/><use href="#p" x="805.00" y="197.00"/><use href="#p" x="41.00" y="214.00"/><use href="#p" x="57.00" y="214.00"/><use href="#p" x="73.00" y="214.00"/><use href="#p" x="90.00" y="214.00"/><use href="#p" x="106.00" y="214.00"/><use href="#p" x="122.00" y="214.00"/><use href="#p" x="138.00" y="214.00"/><use href="#p" x="155.00" y="214.00"/><use href="#p" x="171.00" y="214.00"/><use href="#p" x="187.00" y="214.00"/><use href="#p" x="203.00" y="214.00"/><use href="#p" x="220.00" y="214.00"/><use href="#p" x="236.00" y="214.00"/><use href="#p" x="252.00" y="214.00"/><use href="#p" x="268.00" y="214.00"/><use href="#p" x="285.00" y="214.00"/><use href="#p" x="301.00" y="214.00"/><use href="#p" x="317.00" y="214.00"/><use href="#p" x="333.00" y="214.00"/><use href="#p" x="350.00" y="214.00"/><use href="#p" x="366.00" y="214.00"/><use href="#p" x="382.00" y="214.00"/><use href="#p" x="398.00" y="214.00"/><use href="#p" x="415.00" y="214.00"/><use href="#p" x="431.00" y="214.00"/><use href="#p" x="447.00" y="214.00"/><use href="#p" x="463.00" y="214.00"/><use href="#p" x="480.00" y="214.00"/><use href="#p" x="496.00" y="214.00"/><use href="#p" x="512.00" y="214.00"/><use href="#p" x="528.00" y="214.00"/><use href="#p" x="545.00" y="214.00"/><use href="#p" x="561.00" y="214.00"/><use href="#p" x="577.00" y="214.00"/><use href="#p" x="593.00" y="214.00"/><use href="#p" x="610.00" y="214.00"/><use href="#p" x="626.00" y="214.00"/><use href="#p" x="642.00" y="214.00"/><use href="#p" x="659.00" y="214.00"/><use href="#p" x="675.00" y="214.00"/><use href="#p" x="691.00" y="214.00"/><use href="#p" x="707.00" y="214.00"/><use href="#p" x="724.00" y="214.00"/><use href="#p" x="740.00" y="214.00"/><use href="#p" x="756.00" y="214.00"/><use href="#p" x="772.00" y="214.00"/><use href="#p" x="789.00" y="214.00"/><use href="#p" x="805.00" y="214.00"/><use href="#p" x="41.00" y="230.00"/><use href="#p" x="57.00" y="230.00"/><use href="#p" x="73.00" y="230.00"/><use href="#p" x="90.00" y="230.00"/><use href="#p" x="106.00" y="230.00"/><use href="#p" x="122.00" y="230.00"/><use href="#p" x="138.00" y="230.00"/><use href="#p" x="155.00" y="230.00"/><use href="#p" x="171.00" y="230.00"/><use href="#p" x="187.00" y="230.00"/><use href="#p" x="203.00" y="230.00"/><use href="#p" x="220.00" y="230.00"/><use href="#p" x="236.00" y="230.00"/><use href="#p" x="252.00" y="230.00"/><use href="#p" x="268.00" y="230.00"/><use href="#p" x="285.00" y="230.00"/><use href="#p" x="301.00" y="230.00"/><use href="#p" x="317.00" y="230.00"/><use href="#p" x="333.00" y="230.00"/><use href="#p" x="350.00" y="230.00"/><use href="#p" x="366.00" y="230.00"/><use href="#p" x="382.00" y="230.00"/><use href="#p" x="398.00" y="230.00"/><use href="#p" x="415.00" y="230.00"/><use href="#p" x="431.00" y="230.00"/><use href="#p" x="447.00" y="230.00"/><use href="#p" x="463.00" y="230.00"/><use href="#p" x="480.00" y="230.00"/><use href="#p" x="496.00" y="230.00"/><use href="#p" x="512.00" y="230.00"/><use href="#p" x="528.00" y="230.00"/><use href="#p" x="545.00" y="230.00"/><use href="#p" x="561.00" y="230.00"/><use href="#p" x="577.00" y="230.00"/><use href="#p" x="593.00" y="230.00"/><use href="#p" x="610.00" y="230.00"/><use href="#p" x="626.00" y="230.00"/><use href="#p" x="642.00" y="230.00"/><use href="#p" x="659.00" y="230.00"/><use href="#p" x="675.00" y="230.00"/><use href="#p" x="691.00" y="230.00"/><use href="#p" x="707.00" y="230.00"/><use href="#p" x="724.00" y="230.00"/><use href="#p" x="740.00" y="230.00"/><use href="#p" x="756.00" y="230.00"/><use href="#p" x="772.00" y="230.00"/><use href="#p" x="789.00" y="230.00"/><use href="#p" x="805.00" y="230.00"/><use href="#p" x="41.00" y="246.00"/><use href="#p" x="57.00" y="246.00"/><use href="#p" x="73.00" y="246.00"/><use href="#p" x="90.00" y="246.00"/><use href="#p" x="106.00" y="246.00"/><use href="#p" x="122.00" y="246.00"/><use href="#p" x="138.00" y="246.00"/><use href="#p" x="155.00" y="246.00"/><use href="#p" x="171.00" y="246.00"/><use href="#p" x="187.00" y="246.00"/><use href="#p" x="203.00" y="246.00"/><use href="#p" x="220.00" y="246.00"/><use href="#p" x="236.00" y="246.00"/><use href="#p" x="252.00" y="246.00"/><use href="#p" x="268.00" y="246.00"/><use href="#p" x="285.00" y="246.00"/><use href="#p" x="301.00" y="246.00"/><use href="#p" x="317.00" y="246.00"/><use href="#p" x="333.00" y="246.00"/><use href="#p" x="350.00" y="246.00"/><use href="#p" x="366.00" y="246.00"/><use href="#p" x="382.00" y="246.00"/><use href="#p" x="398.00" y="246.00"/><use href="#p" x="415.00" y="246.00"/><use href="#p" x="431.00" y="246.00"/><use href="#p" x="447.00" y="246.00"/><use href="#p" x="463.00" y="246.00"/><use href="#p" x="480.00" y="246.00"/><use href="#p" x="496.00" y="246.00"/><use href="#p" x="512.00" y="246.00"/><use href="#p" x="528.00" y="246.00"/><use href="#p" x="545.00" y="246.00"/><use href="#p" x="561.00" y="246.00"/><use href="#p" x="577.00" y="246.00"/><use href="#p" x="593.00" y="246.00"/><use href="#p" x="610.00" y="246.00"/><use href="#p" x="626.00" y="246.00"/><use href="#p" x="642.00" y="246.00"/><use href="#p" x="659.00" y="246.00"/><use href="#p" x="675.00" y="246.00"/><use href="#p" x="691.00" y="246.00"/><use href="#p" x="707.00" y="246.00"/><use href="#p" x="724.00" y="246.00"/><use href="#p" x="740.00" y="246.00"/><use href="#p" x="756.00" y="246.00"/><use href="#p" x="772.00" y="246.00"/><use href="#p" x="789.00" y="246.00"/><use href="#p" x="805.00" y="246.00"/><use href="#p" x="41.00" y="262.00"/><use href="#p" x="57.00" y="262.00"/><use href="#p" x="73.00" y="262.00"/><use href="#p" x="90.00" y="262.00"/><use href="#p" x="106.00" y="262.00"/><use href="#p" x="122.00" y="262.00"/><use href="#p" x="138.00" y="262.00"/><use href="#p" x="155.00" y="262.00"/><use href="#p" x="171.00" y="262.00"/><use href="#p" x="187.00" y="262.00"/><use href="#p" x="203.00" y="262.00"/><use href="#p" x="220.00" y="262.00"/><use href="#p" x="236.00" y="262.00"/><use href="#p" x="252.00" y="262.00"/><use href="#p" x="268.00" y="262.00"/><use href="#p" x="285.00" y="262.00"/><use href="#p" x="301.00" y="262.00"/><use href="#p" x="317.00" y="262.00"/><use href="#p" x="333.00" y="262.00"/><use href="#p" x="350.00" y="262.00"/><use href="#p" x="366.00" y="262.00"/><use href="#p" x="382.00" y="262.00"/><use href="#p" x="398.00" y="262.00"/><use href="#p" x="415.00" y="262.00"/><use href="#p" x="431.00" y="262.00"/><use href="#p" x="447.00" y="262.00"/><use href="#p" x="463.00" y="262.00"/><use href="#p" x="480.00" y="262.00"/><use href="#p" x="496.00" y="262.00"/><use href="#p" x="512.00" y="262.00"/><use href="#p" x="528.00" y="262.00"/><use href="#p" x="545.00" y="262.00"/><use href="#p" x="561.00" y="262.00"/><use href="#p" x="577.00" y="262.00"/><use href="#p" x="593.00" y="262.00"/><use href="#p" x="610.00" y="262.00"/><use href="#p" x="626.00" y="262.00"/><use href="#p" x="642.00" y="262.00"/><use href="#p" x="659.00" y="262.00"/><use href="#p" x="675.00" y="262.00"/><use href="#p" x="691.00" y="262.00"/><use href="#p" x="707.00" y="262.00"/><use href="#p" x="724.00" y="262.00"/><use href="#p" x="740.00" y="262.00"/><use href="#p" x="756.00" y="262.00"/><use href="#p" x="772.00" y="262.00"/><use href="#p" x="789.00" y="262.00"/><use href="#p" x="805.00" y="262.00"/><use href="#p" x="41.00" y="279.00"/><use href="#p" x="57.00" y="279.00"/><use href="#p" x="73.00" y="279.00"/><use href="#p" x="90.00" y="279.00"/><use href="#p" x="106.00" y="279.00"/><use href="#p" x="122.00" y="279.00"/><use href="#p" x="138.00" y="279.00"/><use href="#p" x="155.00" y="279.00"/><use href="#p" x="171.00" y="279.00"/><use href="#p" x="187.00" y="279.00"/><use href="#p" x="203.00" y="279.00"/><use href="#p" x="220.00" y="279.00"/><use href="#p" x="236.00" y="279.00"/><use href="#p" x="252.00" y="279.00"/><use href="#p" x="268.00" y="279.00"/><use href="#p" x="285.00" y="279.00"/><use href="#p" x="301.00" y="279.00"/><use href="#p" x="317.00" y="279.00"/><use href="#p" x="333.00" y="279.00"/><use href="#p" x="350.00" y="279.00"/><use href="#p" x="366.00" y="279.00"/><use href="#p" x="382.00" y="279.00"/><use href="#p" x="398.00" y="279.00"/><use href="#p" x="415.00" y="279.00"/><use href="#p" x="431.00" y="279.00"/><use href="#p" x="447.00" y="279.00"/><use href="#p" x="463.00" y="279.00"/><use href="#p" x="480.00" y="279.00"/><use href="#p" x="496.00" y="279.00"/><use href="#p" x="512.00" y="279.00"/><use href="#p" x="528.00" y="279.00"/><use href="#p" x="545.00" y="279.00"/><use href="#p" x="561.00" y="279.00"/><use href="#p" x="577.00" y="279.00"/><use href="#p" x="593.00" y="279.00"/><use href="#p" x="610.00" y="279.00"/><use href="#p" x="626.00" y="279.00"/><use href="#p" x="642.00" y="279.00"/><use href="#p" x="659.00" y="279.00"/><use href="#p" x="675.00" y="279.00"/><use href="#p" x="691.00" y="279.00"/><use href="#p" x="707.00" y="279.00"/><use href="#p" x="724.00" y="279.00"/><use href="#p" x="740.00" y="279.00"/><use href="#p" x="756.00" y="279.00"/><use href="#p" x="772.00" y="279.00"/><use href="#p" x="789.00" y="279.00"/><use href="#p" x="805.00" y="279.00"/><use href="#p" x="41.00" y="295.00"/><use href="#p" x="57.00" y="295.00"/><use href="#p" x="73.00" y="295.00"/><use href="#p" x="90.00" y="295.00"/><use href="#p" x="106.00" y="295.00"/><use href="#p" x="122.00" y="295.00"/><use href="#p" x="138.00" y="295.00"/><use href="#p" x="155.00" y="295.00"/><use href="#p" x="171.00" y="295.00"/><use href="#p" x="187.00" y="295.00"/><use href="#p" x="203.00" y="295.00"/><use href="#p" x="220.00" y="295.00"/><use href="#p" x="236.00" y="295.00"/><use href="#p" x="252.00" y="295.00"/><use href="#p" x="268.00" y="295.00"/><use href="#p" x="285.00" y="295.00"/><use href="#p" x="301.00" y="295.00"/><use href="#p" x="317.00" y="295.00"/><use href="#p" x="333.00" y="295.00"/><use href="#p" x="350.00" y="295.00"/><use href="#p" x="366.00" y="295.00"/><use href="#p" x="382.00" y="295.00"/><use href="#p" x="398.00" y="295.00"/><use href="#p" x="415.00" y="295.00"/><use href="#p" x="431.00" y="295.00"/><use href="#p" x="447.00" y="295.00"/><use href="#p" x="463.00" y="295.00"/><use href="#p" x="480.00" y="295.00"/><use href="#p" x="496.00" y="295.00"/><use href="#p" x="512.00" y="295.00"/><use href="#p" x="528.00" y="295.00"/><use href="#p" x="545.00" y="295.00"/><use href="#p" x="561.00" y="295.00"/><use href="#p" x="577.00" y="295.00"/><use href="#p" x="593.00" y="295.00"/><use href="#p" x="610.00" y="295.00"/><use href="#p" x="626.00" y="295.00"/><use href="#p" x="642.00" y="295.00"/><use href="#p" x="659.00" y="295.00"/><use href="#p" x="675.00" y="295.00"/><use href="#p" x="691.00" y="295.00"/><use href="#p" x="707.00" y="295.00"/><use href="#p" x="724.00" y="295.00"/><use href="#p" x="740.00" y="295.00"/><use href="#p" x="756.00" y="295.00"/><use href="#p" x="772.00" y="295.00"/><use href="#p" x="789.00" y="295.00"/><use href="#p" x="805.00" y="295.00"/><use href="#p" x="41.00" y="344.00"/><use href="#p" x="57.00" y="344.00"/><use href="#p" x="73.00" y="344.00"/><use href="#p" x="90.00" y="344.00"/><use href="#p" x="106.00" y="344.00"/><use href="#p" x="122.00" y="344.00"/><use href="#p" x="138.00" y="344.00"/><use href="#p" x="155.00" y="344.00"/><use href="#p" x="171.00" y="344.00"/><use href="#p" x="187.00" y="344.00"/><use href="#p" x="203.00" y="344.00"/><use href="#p" x="220.00" y="344.00"/><use href="#p" x="236.00" y="344.00"/><use href="#p" x="252.00" y="344.00"/><use href="#p" x="268.00" y="344.00"/><use href="#p" x="285.00" y="344.00"/><use href="#p" x="301.00" y="344.00"/><use href="#p" x="317.00" y="344.00"/><use href="#p" x="333.00" y="344.00"/><use href="#p" x="350.00" y="344.00"/><use href="#p" x="366.00" y="344.00"/><use href="#p" x="382.00" y="344.00"/><use href="#p" x="398.00" y="344.00"/><use href="#p" x="415.00" y="344.00"/><use href="#p" x="431.00" y="344.00"/><use href="#p" x="447.00" y="344.00"/><use href="#p" x="463.00" y="344.00"/><use href="#p" x="480.00" y="344.00"/><use href="#p" x="496.00" y="344.00"/><use href="#p" x="512.00" y="344.00"/><use href="#p" x="528.00" y="344.00"/><use href="#p" x="545.00" y="344.00"/><use href="#p" x="561.00" y="344.00"/><use href="#p" x="577.00" y="344.00"/><use href="#p" x="593.00" y="344.00"/><use href="#p" x="610.00" y="344.00"/><use href="#p" x="626.00" y="344.00"/><use href="#p" x="642.00" y="344.00"/><use href="#p" x="659.00" y="344.00"/><use href="#p" x="675.00" y="344.00"/><use href="#p" x="691.00" y="344.00"/><use href="#p" x="707.00" y="344.00"/><use href="#p" x="724.00" y="344.00"/><use href="#p" x="740.00" y="344.00"/><use href="#p" x="756.00" y="344.00"/><use href="#p" x="772.00" y="344.00"/><use href="#p" x="789.00" y="344.00"/><use href="#p" x="805.00" y="344.00"/><use href="#p" x="41.00" y="360.00"/><use href="#p" x="57.00" y="360.00"/><use href="#p" x="73.00" y="360.00"/><use href="#p" x="90.00" y="360.00"/><use href="#p" x="106.00" y="360.00"/><use href="#p" x="122.00" y="360.00"/><use href="#p" x="138.00" y="360.00"/><use href="#p" x="155.00" y="360.00"/><use href="#p" x="171.00" y="360.00"/><use href="#p" x="187.00" y="360.00"/><use href="#p" x="203.00" y="360.00"/><use href="#p" x="220.00" y="360.00"/><use href="#p" x="236.00" y="360.00"/><use href="#p" x="252.00" y="360.00"/><use href="#p" x="268.00" y="360.00"/><use href="#p" x="285.00" y="360.00"/><use href="#p" x="301.00" y="360.00"/><use href="#p" x="317.00" y="360.00"/><use href="#p" x="333.00" y="360.00"/><use href="#p" x="350.00" y="360.00"/><use href="#p" x="366.00" y="360.00"/><use href="#p" x="382.00" y="360.00"/><use href="#p" x="398.00" y="360.00"/><use href="#p" x="415.00" y="360.00"/><use href="#p" x="431.00" y="360.00"/><use href="#p" x="447.00" y="360.00"/><use href="#p" x="463.00" y="360.00"/><use href="#p" x="480.00" y="360.00"/><use href="#p" x="496.00" y="360.00"/><use href="#p" x="512.00" y="360.00"/><use href="#p" x="528.00" y="360.00"/><use href="#p" x="545.00" y="360.00"/><use href="#p" x="561.00" y="360.00"/><use href="#p" x="577.00" y="360.00"/><use href="#p" x="593.00" y="360.00"/><use href="#p" x="610.00" y="360.00"/><use href="#p" x="626.00" y="360.00"/><use href="#p" x="642.00" y="360.00"/><use href="#p" x="659.00" y="360.00"/><use href="#p" x="675.00" y="360.00"/><use href="#p" x="691.00" y="360.00"/><use href="#p" x="707.00" y="360.00"/><use href="#p" x="724.00" y="360.00"/><use href="#p" x="740.00" y="360.00"/><use href="#p" x="756.00" y="360.00"/><use href="#p" x="772.00" y="360.00"/><use href="#p" x="789.00" y="360.00"/><use href="#p" x="805.00" y="360.00"/><use href="#p" x="41.00" y="376.00"/><use href="#p" x="57.00" y="376.00"/><use href="#p" x="73.00" y="376.00"/><use href="#p" x="90.00" y="376.00"/><use href="#p" x="106.00" y="376.00"/><use href="#p" x="122.00" y="376.00"/><use href="#p" x="138.00" y="376.00"/><use href="#p" x="155.00" y="376.00"/><use href="#p" x="171.00" y="376.00"/><use href="#p" x="187.00" y="376.00"/><use href="#p" x="203.00" y="376.00"/><use href="#p" x="220.00" y="376.00"/><use href="#p" x="236.00" y="376.00"/><use href="#p" x="252.00" y="376.00"/><use href="#p" x="268.00" y="376.00"/><use href="#p" x="285.00" y="376.00"/><use href="#p" x="301.00" y="376.00"/><use href="#p" x="317.00" y="376.00"/><use href="#p" x="333.00" y="376.00"/><use href="#p" x="350.00" y="376.00"/><use href="#p" x="366.00" y="376.00"/><use href="#p" x="382.00" y="376.00"/><use href="#p" x="398.00" y="376.00"/><use href="#p" x="415.00" y="376.00"/><use href="#p" x="431.00" y="376.00"/><use href="#p" x="447.00" y="376.00"/><use href="#p" x="463.00" y="376.00"/><use href="#p" x="480.00" y="376.00"/><use href="#p" x="496.00" y="376.00"/><use href="#p" x="512.00" y="376.00"/><use href="#p" x="528.00" y="376.00"/><use href="#p" x="545.00" y="376.00"/><use href="#p" x="561.00" y="376.00"/><use href="#p" x="577.00" y="376.00"/><use href="#p" x="593.00" y="376.00"/><use href="#p" x="610.00" y="376.00"/><use href="#p" x="626.00" y="376.00"/><use href="#p" x="642.00" y="376.00"/><use href="#p" x="659.00" y="376.00"/><use href="#p" x="675.00" y="376.00"/><use href="#p" x="691.00" y="376.00"/><use href="#p" x="707.00" y="376.00"/><use href="#p" x="724.00" y="376.00"/><use href="#p" x="740.00" y="376.00"/><use href="#p" x="756.00" y="376.00"/><use href="#p" x="772.00" y="376.00"/><use href="#p" x="789.00" y="376.00"/><use href="#p" x="805.00" y="376.00"/><use href="#p" x="41.00" y="392.00"/><use href="#p" x="57.00" y="392.00"/><use href="#p" x="73.00" y="392.00"/><use href="#p" x="90.00" y="392.00"/><use href="#p" x="106.00" y="392.00"/><use href="#p" x="122.00" y="392.00"/><use href="#p" x="138.00" y="392.00"/><use href="#p" x="155.00" y="392.00"/><use href="#p" x="171.00" y="392.00"/><use href="#p" x="187.00" y="392.00"/><use href="#p" x="203.00" y="392.00"/><use href="#p" x="220.00" y="392.00"/><use href="#p" x="236.00" y="392.00"/><use href="#p" x="252.00" y="392.00"/><use href="#p" x="268.00" y="392.00"/><use href="#p" x="285.00" y="392.00"/><use href="#p" x="301.00" y="392.00"/><use href="#p" x="317.00" y="392.00"/><use href="#p" x="333.00" y="392.00"/><use href="#p" x="350.00" y="392.00"/><use href="#p" x="366.00" y="392.00"/><use href="#p" x="382.00" y="392.00"/><use href="#p" x="398.00" y="392.00"/><use href="#p" x="415.00" y="392.00"/><use href="#p" x="431.00" y="392.00"/><use href="#p" x="447.00" y="392.00"/><use href="#p" x="463.00" y="392.00"/><use href="#p" x="480.00" y="392.00"/><use href="#p" x="496.00" y="392.00"/><use href="#p" x="512.00" y="392.00"/><use href="#p" x="528.00" y="392.00"/><use href="#p" x="545.00" y="392.00"/><use href="#p" x="561.00" y="392.00"/><use href="#p" x="577.00" y="392.00"/><use href="#p" x="593.00" y="392.00"/><use href="#p" x="610.00" y="392.00"/><use href="#p" x="626.00" y="392.00"/><use href="#p" x="642.00" y="392.00"/><use href="#p" x="659.00" y="392.00"/><use href="#p" x="675.00" y="392.00"/><use href="#p" x="691.00" y="392.00"/><use href="#p" x="707.00" y="392.00"/><use href="#p" x="724.00" y="392.00"/><use href="#p" x="740.00" y="392.00"/><use href="#p" x="756.00" y="392.00"/><use href="#p" x="772.00" y="392.00"/><use href="#p" x="789.00" y="392.00"/><use href="#p" x="805.00" y="392.00"/><use href="#p" x="41.00" y="409.00"/><use href="#p" x="57.00" y="409.00"/><use href="#p" x="73.00" y="409.00"/><use href="#p" x="90.00" y="409.00"/><use href="#p" x="106.00" y="409.00"/><use href="#p" x="122.00" y="409.00"/><use href="#p" x="138.00" y="409.00"/><use href="#p" x="155.00" y="409.00"/><use href="#p" x="171.00" y="409.00"/><use href="#p" x="187.00" y="409.00"/><use href="#p" x="203.00" y="409.00"/><use href="#p" x="220.00" y="409.00"/><use href="#p" x="236.00" y="409.00"/><use href="#p" x="252.00" y="409.00"/><use href="#p" x="268.00" y="409.00"/><use href="#p" x="285.00" y="409.00"/><use href="#p" x="301.00" y="409.00"/><use href="#p" x="317.00" y="409.00"/><use href="#p" x="333.00" y="409.00"/><use href="#p" x="350.00" y="409.00"/><use href="#p" x="366.00" y="409.00"/><use href="#p" x="382.00" y="409.00"/><use href="#p" x="398.00" y="409.00"/><use href="#p" x="415.00" y="409.00"/><use href="#p" x="431.00" y="409.00"/><use href="#p" x="447.00" y="409.00"/><use href="#p" x="463.00" y="409.00"/><use href="#p" x="480.00" y="409.00"/><use href="#p" x="496.00" y="409.00"/><use href="#p" x="512.00" y="409.00"/><use href="#p" x="528.00" y="409.00"/><use href="#p" x="545.00" y="409.00"/><use href="#p" x="561.00" y="409.00"/><use href="#p" x="577.00" y="409.00"/><use href="#p" x="593.00" y="409.00"/><use href="#p" x="610.00" y="409.00"/><use href="#p" x="626.00" y="409.00"/><use href="#p" x="642.00" y="409.00"/><use href="#p" x="659.00" y="409.00"/><use href="#p" x="675.00" y="409.00"/><use href="#p" x="691.00" y="409.00"/><use href="#p" x="707.00" y="409.00"/><use href="#p" x="724.00" y="409.00"/><use href="#p" x="740.00" y="409.00"/><use href="#p" x="756.00" y="409.00"/><use href="#p" x="772.00" y="409.00"/><use href="#p" x="789.00" y="409.00"/><use href="#p" x="805.00" y="409.00"/><use href="#p" x="41.00" y="425.00"/><use href="#p" x="57.00" y="425.00"/><use href="#p" x="73.00" y="425.00"/><use href="#p" x="90.00" y="425.00"/><use href="#p" x="106.00" y="425.00"/><use href="#p" x="122.00" y="425.00"/><use href="#p" x="138.00" y="425.00"/><use href="#p" x="155.00" y="425.00"/><use href="#p" x="171.00" y="425.00"/><use href="#p" x="187.00" y="425.00"/><use href="#p" x="203.00" y="425.00"/><use href="#p" x="220.00" y="425.00"/><use href="#p" x="236.00" y="425.00"/><use href="#p" x="252.00" y="425.00"/><use href="#p" x="268.00" y="425.00"/><use href="#p" x="285.00" y="425.00"/><use href="#p" x="301.00" y="425.00"/><use href="#p" x="317.00" y="425.00"/><use href="#p" x="333.00" y="425.00"/><use href="#p" x="350.00" y="425.00"/><use href="#p" x="366.00" y="425.00"/><use href="#p" x="382.00" y="425.00"/><use href="#p" x="398.00" y="425.00"/><use href="#p" x="415.00" y="425.00"/><use href="#p" x="431.00" y="425.00"/><use href="#p" x="447.00" y="425.00"/><use href="#p" x="463.00" y="425.00"/><use href="#p" x="480.00" y="425.00"/><use href="#p" x="496.00" y="425.00"/><use href="#p" x="512.00" y="425.00"/><use href="#p" x="528.00" y="425.00"/><use href="#p" x="545.00" y="425.00"/><use href="#p" x="561.00" y="425.00"/><use href="#p" x="577.00" y="425.00"/><use href="#p" x="593.00" y="425.00"/><use href="#p" x="610.00" y="425.00"/><use href="#p" x="626.00" y="425.00"/><use href="#p" x="642.00" y="425.00"/><use href="#p" x="659.00" y="425.00"/><use href="#p" x="675.00" y="425.00"/><use href="#p" x="691.00" y="425.00"/><use href="#p" x="707.00" y="425.00"/><use href="#p" x="724.00" y="425.00"/><use href="#p" x="740.00" y="425.00"/><use href="#p" x="756.00" y="425.00"/><use href="#p" x="772.00" y="425.00"/><use href="#p" x="789.00" y="425.00"/><use href="#p" x="805.00" y="425.00"/><use href="#p" x="41.00" y="441.00"/><use href="#p" x="57.00" y="441.00"/><use href="#p" x="73.00" y="441.00"/><use href="#p" x="90.00" y="441.00"/><use href="#p" x="106.00" y="441.00"/><use href="#p" x="122.00" y="441.00"/><use href="#p" x="138.00" y="441.00"/><use href="#p" x="155.00" y="441.00"/><use href="#p" x="171.00" y="441.00"/><use href="#p" x="187.00" y="441.00"/><use href="#p" x="203.00" y="441.00"/><use href="#p" x="220.00" y="441.00"/><use href="#p" x="236.00" y="441.00"/><use href="#p" x="252.00" y="441.00"/><use href="#p" x="268.00" y="441.00"/><use href="#p" x="285.00" y="441.00"/><use href="#p" x="301.00" y="441.00"/><use href="#p" x="317.00" y="441.00"/><use href="#p" x="333.00" y="441.00"/><use href="#p" x="350.00" y="441.00"/><use href="#p" x="366.00" y="441.00"/><use href="#p" x="382.00" y="441.00"/><use href="#p" x="398.00" y="441.00"/><use href="#p" x="415.00" y="441.00"/><use href="#p" x="431.00" y="441.00"/><use href="#p" x="447.00" y="441.00"/><use href="#p" x="463.00" y="441.00"/><use href="#p" x="480.00" y="441.00"/><use href="#p" x="496.00" y="441.00"/><use href="#p" x="512.00" y="441.00"/><use href="#p" x="528.00" y="441.00"/><use href="#p" x="545.00" y="441.00"/><use href="#p" x="561.00" y="441.00"/><use href="#p" x="577.00" y="441.00"/><use href="#p" x="593.00" y="441.00"/><use href="#p" x="610.00" y="441.00"/><use href="#p" x="626.00" y="441.00"/><use href="#p" x="642.00" y="441.00"/><use href="#p" x="659.00" y="441.00"/><use href="#p" x="675.00" y="441.00"/><use href="#p" x="691.00" y="441.00"/><use href="#p" x="707.00" y="441.00"/><use href="#p" x="724.00" y="441.00"/><use href="#p" x="740.00" y="441.00"/><use href="#p" x="756.00" y="441.00"/><use href="#p" x="772.00" y="441.00"/><use href="#p" x="789.00" y="441.00"/><use href="#p" x="805.00" y="441.00"/><use href="#p" x="41.00" y="457.00"/><use href="#p" x="57.00" y="457.00"/><use href="#p" x="73.00" y="457.00"/><use href="#p" x="90.00" y="457.00"/><use href="#p" x="106.00" y="457.00"/><use href="#p" x="122.00" y="457.00"/><use href="#p" x="138.00" y="457.00"/><use href="#p" x="155.00" y="457.00"/><use href="#p" x="171.00" y="457.00"/><use href="#p" x="187.00" y="457.00"/><use href="#p" x="203.00" y="457.00"/><use href="#p" x="220.00" y="457.00"/><use href="#p" x="236.00" y="457.00"/><use href="#p" x="252.00" y="457.00"/><use href="#p" x="268.00" y="457.00"/><use href="#p" x="285.00" y="457.00"/><use href="#p" x="301.00" y="457.00"/><use href="#p" x="317.00" y="457.00"/><use href="#p" x="333.00" y="457.00"/><use href="#p" x="350.00" y="457.00"/><use href="#p" x="366.00" y="457.00"/><use href="#p" x="382.00" y="457.00"/><use href="#p" x="398.00" y="457.00"/><use href="#p" x="415.00" y="457.00"/><use href="#p" x="431.00" y="457.00"/><use href="#p" x="447.00" y="457.00"/><use href="#p" x="463.00" y="457.00"/><use href="#p" x="480.00" y="457.00"/><use href="#p" x="496.00" y="457.00"/><use href="#p" x="512.00" y="457.00"/><use href="#p" x="528.00" y="457.00"/><use href="#p" x="545.00" y="457.00"/><use href="#p" x="561.00" y="457.00"/><use href="#p" x="577.00" y="457.00"/><use href="#p" x="593.00" y="457.00"/><use href="#p" x="610.00" y="457.00"/><use href="#p" x="626.00" y="457.00"/><use href="#p" x="642.00" y="457.00"/><use href="#p" x="659.00" y="457.00"/><use href="#p" x="675.00" y="457.00"/><use href="#p" x="691.00" y="457.00"/><use href="#p" x="707.00" y="457.00"/><use href="#p" x="724.00" y="457.00"/><use href="#p" x="740.00" y="457.00"/><use href="#p" x="756.00" y="457.00"/><use href="#p" x="772.00" y="457.00"/><use href="#p" x="789.00" y="457.00"/><use href="#p" x="805.00" y="457.00"/><use href="#p" x="41.00" y="474.00"/><use href="#p" x="57.00" y="474.00"/><use href="#p" x="73.00" y="474.00"/><use href="#p" x="90.00" y="474.00"/><use href="#p" x="106.00" y="474.00"/><use href="#p" x="122.00" y="474.00"/><use href="#p" x="138.00" y="474.00"/><use href="#p" x="155.00" y="474.00"/><use href="#p" x="171.00" y="474.00"/><use href="#p" x="187.00" y="474.00"/><use href="#p" x="203.00" y="474.00"/><use href="#p" x="220.00" y="474.00"/><use href="#p" x="236.00" y="474.00"/><use href="#p" x="252.00" y="474.00"/><use href="#p" x="268.00" y="474.00"/><use href="#p" x="285.00" y="474.00"/><use href="#p" x="301.00" y="474.00"/><use href="#p" x="317.00" y="474.00"/><use href="#p" x="333.00" y="474.00"/><use href="#p" x="350.00" y="474.00"/><use href="#p" x="366.00" y="474.00"/><use href="#p" x="382.00" y="474.00"/><use href="#p" x="398.00" y="474.00"/><use href="#p" x="415.00" y="474.00"/><use href="#p" x="431.00" y="474.00"/><use href="#p" x="447.00" y="474.00"/><use href="#p" x="463.00" y="474.00"/><use href="#p" x="480.00" y="474.00"/><use href="#p" x="496.00" y="474.00"/><use href="#p" x="512.00" y="474.00"/><use href="#p" x="528.00" y="474.00"/><use href="#p" x="545.00" y="474.00"/><use href="#p" x="561.00" y="474.00"/><use href="#p" x="577.00" y="474.00"/><use href="#p" x="593.00" y="474.00"/><use href="#p" x="610.00" y="474.00"/><use href="#p" x="626.00" y="474.00"/><use href="#p" x="642.00" y="474.00"/><use href="#p" x="659.00" y="474.00"/><use href="#p" x="675.00" y="474.00"/><use href="#p" x="691.00" y="474.00"/><use href="#p" x="707.00" y="474.00"/><use href="#p" x="724.00" y="474.00"/><use href="#p" x="740.00" y="474.00"/><use href="#p" x="756.00" y="474.00"/><use href="#p" x="772.00" y="474.00"/><use href="#p" x="789.00" y="474.00"/><use href="#p" x="805.00" y="474.00"/><use href="#p" x="41.00" y="490.00"/><use href="#p" x="57.00" y="490.00"/><use href="#p" x="73.00" y="490.00"/><use href="#p" x="90.00" y="490.00"/><use href="#p" x="106.00" y="490.00"/><use href="#p" x="122.00" y="490.00"/><use href="#p" x="138.00" y="490.00"/><use href="#p" x="155.00" y="490.00"/><use href="#p" x="171.00" y="490.00"/><use href="#p" x="187.00" y="490.00"/><use href="#p" x="203.00" y="490.00"/><use href="#p" x="220.00" y="490.00"/><use href="#p" x="236.00" y="490.00"/><use href="#p" x="252.00" y="490.00"/><use href="#p" x="268.00" y="490.00"/><use href="#p" x="285.00" y="490.00"/><use href="#p" x="301.00" y="490.00"/><use href="#p" x="317.00" y="490.00"/><use href="#p" x="333.00" y="490.00"/><use href="#p" x="350.00" y="490.00"/><use href="#p" x="366.00" y="490.00"/><use href="#p" x="382.00" y="490.00"/><use href="#p" x="398.00" y="490.00"/><use href="#p" x="415.00" y="490.00"/><use href="#p" x="431.00" y="490.00"/><use href="#p" x="447.00" y="490.00"/><use href="#p" x="463.00" y="490.00"/><use href="#p" x="480.00" y="490.00"/><use href="#p" x="496.00" y="490.00"/><use href="#p" x="512.00" y="490.00"/><use href="#p" x="528.00" y="490.00"/><use href="#p" x="545.00" y="490.00"/><use href="#p" x="561.00" y="490.00"/><use href="#p" x="577.00" y="490.00"/><use href="#p" x="593.00" y="490.00"/><use href="#p" x="610.00" y="490.00"/><use href="#p" x="626.00" y="490.00"/><use href="#p" x="642.00" y="490.00"/><use href="#p" x="659.00" y="490.00"/><use href="#p" x="675.00" y="490.00"/><use href="#p" x="691.00" y="490.00"/><use href="#p" x="707.00" y="490.00"/><use href="#p" x="724.00" y="490.00"/><use href="#p" x="740.00" y="490.00"/><use href="#p" x="756.00" y="490.00"/><use href="#p" x="772.00" y="490.00"/><use href="#p" x="789.00" y="490.00"/><use href="#p" x="805.00" y="490.00"/><use href="#p" x="41.00" y="506.00"/><use href="#p" x="57.00" y="506.00"/><use href="#p" x="73.00" y="506.00"/><use href="#p" x="90.00" y="506.00"/><use href="#p" x="106.00" y="506.00"/><use href="#p" x="122.00" y="506.00"/><use href="#p" x="138.00" y="506.00"/><use href="#p" x="155.00" y="506.00"/><use href="#p" x="171.00" y="506.00"/><use href="#p" x="187.00" y="506.00"/><use href="#p" x="203.00" y="506.00"/><use href="#p" x="220.00" y="506.00"/><use href="#p" x="236.00" y="506.00"/><use href="#p" x="252.00" y="506.00"/><use href="#p" x="268.00" y="506.00"/><use href="#p" x="285.00" y="506.00"/><use href="#p" x="301.00" y="506.00"/><use href="#p" x="317.00" y="506.00"/><use href="#p" x="333.00" y="506.00"/><use href="#p" x="350.00" y="506.00"/><use href="#p" x="366.00" y="506.00"/><use href="#p" x="382.00" y="506.00"/><use href="#p" x="398.00" y="506.00"/><use href="#p" x="415.00" y="506.00"/><use href="#p" x="431.00" y="506.00"/><use href="#p" x="447.00" y="506.00"/><use href="#p" x="463.00" y="506.00"/><use href="#p" x="480.00" y="506.00"/><use href="#p" x="496.00" y="506.00"/><use href="#p" x="512.00" y="506.00"/><use href="#p" x="528.00" y="506.00"/><use href="#p" x="545.00" y="506.00"/><use href="#p" x="561.00" y="506.00"/><use href="#p" x="577.00" y="506.00"/><use href="#p" x="593.00" y="506.00"/><use href="#p" x="610.00" y="506.00"/><use href="#p" x="626.00" y="506.00"/><use href="#p" x="642.00" y="506.00"/><use href="#p" x="659.00" y="506.00"/><use href="#p" x="675.00" y="506.00"/><use href="#p" x="691.00" y="506.00"/><use href="#p" x="707.00" y="506.00"/><use href="#p" x="724.00" y="506.00"/><use href="#p" x="740.00" y="506.00"/><use href="#p" x="756.00" y="506.00"/><use href="#p" x="772.00" y="506.00"/><use href="#p" x="789.00" y="506.00"/><use href="#p" x="805.00" y="506.00"/><use href="#p" x="41.00" y="522.00"/><use href="#p" x="57.00" y="522.00"/><use href="#p" x="73.00" y="522.00"/><use href="#p" x="90.00" y="522.00"/><use href="#p" x="106.00" y="522.00"/><use href="#p" x="122.00" y="522.00"/><use href="#p" x="138.00" y="522.00"/><use href="#p" x="155.00" y="522.00"/><use href="#p" x="171.00" y="522.00"/><use href="#p" x="187.00" y="522.00"/><use href="#p" x="203.00" y="522.00"/><use href="#p" x="220.00" y="522.00"/><use href="#p" x="236.00" y="522.00"/><use href="#p" x="252.00" y="522.00"/><use href="#p" x="268.00" y="522.00"/><use href="#p" x="285.00" y="522.00"/><use href="#p" x="301.00" y="522.00"/><use href="#p" x="317.00" y="522.00"/><use href="#p" x="333.00" y="522.00"/><use href="#p" x="350.00" y="522.00"/><use href="#p" x="366.00" y="522.00"/><use href="#p" x="382.00" y="522.00"/><use href="#p" x="398.00" y="522.00"/><use href="#p" x="415.00" y="522.00"/><use href="#p" x="431.00" y="522.00"/><use href="#p" x="447.00" y="522.00"/><use href="#p" x="463.00" y="522.00"/><use href="#p" x="480.00" y="522.00"/><use href="#p" x="496.00" y="522.00"/><use href="#p" x="512.00" y="522.00"/><use href="#p" x="528.00" y="522.00"/><use href="#p" x="545.00" y="522.00"/><use href="#p" x="561.00" y="522.00"/><use href="#p" x="577.00" y="522.00"/><use href="#p" x="593.00" y="522.00"/><use href="#p" x="610.00" y="522.00"/><use href="#p" x="626.00" y="522.00"/><use href="#p" x="642.00" y="522.00"/><use href="#p" x="659.00" y="522.00"/><use href="#p" x="675.00" y="522.00"/><use href="#p" x="691.00" y="522.00"/><use href="#p" x="707.00" y="522.00"/><use href="#p" x="724.00" y="522.00"/><use href="#p" x="740.00" y="522.00"/><use href="#p" x="756.00" y="522.00"/><use href="#p" x="772.00" y="522.00"/><use href="#p" x="789.00" y="522.00"/><use href="#p" x="805.00" y="522.00"/><use href="#p" x="41.00" y="539.00"/><use href="#p" x="57.00" y="539.00"/><use href="#p" x="73.00" y="539.00"/><use href="#p" x="90.00" y="539.00"/><use href="#p" x="106.00" y="539.00"/><use href="#p" x="122.00" y="539.00"/><use href="#p" x="138.00" y="539.00"/><use href="#p" x="155.00" y="539.00"/><use href="#p" x="171.00" y="539.00"/><use href="#p" x="187.00" y="539.00"/><use href="#p" x="203.00" y="539.00"/><use href="#p" x="220.00" y="539.00"/><use href="#p" x="236.00" y="539.00"/><use href="#p" x="252.00" y="539.00"/><use href="#p" x="268.00" y="539.00"/><use href="#p" x="285.00" y="539.00"/><use href="#p" x="301.00" y="539.00"/><use href="#p" x="317.00" y="539.00"/><use href="#p" x="333.00" y="539.00"/><use href="#p" x="350.00" y="539.00"/><use href="#p" x="366.00" y="539.00"/><use href="#p" x="382.00" y="539.00"/><use href="#p" x="398.00" y="539.00"/><use href="#p" x="415.00" y="539.00"/><use href="#p" x="431.00" y="539.00"/><use href="#p" x="447.00" y="539.00"/><use href="#p" x="463.00" y="539.00"/><use href="#p" x="480.00" y="539.00"/><use href="#p" x="496.00" y="539.00"/><use href="#p" x="512.00" y="539.00"/><use href="#p" x="528.00" y="539.00"/><use href="#p" x="545.00" y="539.00"/><use href="#p" x="561.00" y="539.00"/><use href="#p" x="577.00" y="539.00"/><use href="#p" x="593.00" y="539.00"/><use href="#p" x="610.00" y="539.00"/><use href="#p" x="626.00" y="539.00"/><use href="#p" x="642.00" y="539.00"/><use href="#p" x="659.00" y="539.00"/><use href="#p" x="675.00" y="539.00"/><use href="#p" x="691.00" y="539.00"/><use href="#p" x="707.00" y="539.00"/><use href="#p" x="724.00" y="539.00"/><use href="#p" x="740.00" y="539.00"/><use href="#p" x="756.00" y="539.00"/><use href="#p" x="772.00" y="539.00"/><use href="#p" x="789.00" y="539.00"/><use href="#p" x="805.00" y="539.00"/><use href="#p" x="41.00" y="555.00"/><use href="#p" x="57.00" y="555.00"/><use href="#p" x="73.00" y="555.00"/><use href="#p" x="90.00" y="555.00"/><use href="#p" x="106.00" y="555.00"/><use href="#p" x="122.00" y="555.00"/><use href="#p" x="138.00" y="555.00"/><use href="#p" x="155.00" y="555.00"/><use href="#p" x="171.00" y="555.00"/><use href="#p" x="187.00" y="555.00"/><use href="#p" x="203.00" y="555.00"/><use href="#p" x="220.00" y="555.00"/><use href="#p" x="236.00" y="555.00"/><use href="#p" x="252.00" y="555.00"/><use href="#p" x="268.00" y="555.00"/><use href="#p" x="285.00" y="555.00"/><use href="#p" x="301.00" y="555.00"/><use href="#p" x="317.00" y="555.00"/><use href="#p" x="333.00" y="555.00"/><use href="#p" x="350.00" y="555.00"/><use href="#p" x="366.00" y="555.00"/><use href="#p" x="382.00" y="555.00"/><use href="#p" x="398.00" y="555.00"/><use href="#p" x="415.00" y="555.00"/><use href="#p" x="431.00" y="555.00"/><use href="#p" x="447.00" y="555.00"/><use href="#p" x="463.00" y="555.00"/><use href="#p" x="480.00" y="555.00"/><use href="#p" x="496.00" y="555.00"/><use href="#p" x="512.00" y="555.00"/><use href="#p" x="528.00" y="555.00"/><use href="#p" x="545.00" y="555.00"/><use href="#p" x="561.00" y="555.00"/><use href="#p" x="577.00" y="555.00"/><use href="#p" x="593.00" y="555.00"/><use href="#p" x="610.00" y="555.00"/><use href="#p" x="626.00" y="555.00"/><use href="#p" x="642.00" y="555.00"/><use href="#p" x="659.00" y="555.00"/><use href="#p" x="675.00" y="555.00"/><use href="#p" x="691.00" y="555.00"/><use href="#p" x="707.00" y="555.00"/><use href="#p" x="724.00" y="555.00"/><use href="#p" x="740.00" y="555.00"/><use href="#p" x="756.00" y="555.00"/><use href="#p" x="772.00" y="555.00"/><use href="#p" x="789.00" y="555.00"/><use href="#p" x="805.00" y="555.00"/><use href="#p" x="41.00" y="571.00"/><use href="#p" x="57.00" y="571.00"/><use href="#p" x="73.00" y="571.00"/><use href="#p" x="90.00" y="571.00"/><use href="#p" x="106.00" y="571.00"/><use href="#p" x="122.00" y="571.00"/><use href="#p" x="138.00" y="571.00"/><use href="#p" x="155.00" y="571.00"/><use href="#p" x="171.00" y="571.00"/><use href="#p" x="187.00" y="571.00"/><use href="#p" x="203.00" y="571.00"/><use href="#p" x="220.00" y="571.00"/><use href="#p" x="236.00" y="571.00"/><use href="#p" x="252.00" y="571.00"/><use href="#p" x="268.00" y="571.00"/><use href="#p" x="285.00" y="571.00"/><use href="#p" x="301.00" y="571.00"/><use href="#p" x="317.00" y="571.00"/><use href="#p" x="333.00" y="571.00"/><use href="#p" x="350.00" y="571.00"/><use href="#p" x="366.00" y="571.00"/><use href="#p" x="382.00" y="571.00"/><use href="#p" x="398.00" y="571.00"/><use href="#p" x="415.00" y="571.00"/><use href="#p" x="431.00" y="571.00"/><use href="#p" x="447.00" y="571.00"/><use href="#p" x="463.00" y="571.00"/><use href="#p" x="480.00" y="571.00"/><use href="#p" x="496.00" y="571.00"/><use href="#p" x="512.00" y="571.00"/><use href="#p" x="528.00" y="571.00"/><use href="#p" x="545.00" y="571.00"/><use href="#p" x="561.00" y="571.00"/><use href="#p" x="577.00" y="571.00"/><use href="#p" x="593.00" y="571.00"/><use href="#p" x="610.00" y="571.00"/><use href="#p" x="626.00" y="571.00"/><use href="#p" x="642.00" y="571.00"/><use href="#p" x="659.00" y="571.00"/><use href="#p" x="675.00" y="571.00"/><use href="#p" x="691.00" y="571.00"/><use href="#p" x="707.00" y="571.00"/><use href="#p" x="724.00" y="571.00"/><use href="#p" x="740.00" y="571.00"/><use href="#p" x="756.00" y="571.00"/><use href="#p" x="772.00" y="571.00"/><use href="#p" x="789.00" y="571.00"/><use href="#p" x="805.00" y="571.00"/><use href="#p" x="41.00" y="588.00"/><use href="#p" x="57.00" y="588.00"/><use href="#p" x="73.00" y="588.00"/><use href="#p" x="90.00" y="588.00"/><use href="#p" x="106.00" y="588.00"/><use href="#p" x="122.00" y="588.00"/><use href="#p" x="138.00" y="588.00"/><use href="#p" x="155.00" y="588.00"/><use href="#p" x="171.00" y="588.00"/><use href="#p" x="187.00" y="588.00"/><use href="#p" x="203.00" y="588.00"/><use href="#p" x="220.00" y="588.00"/><use href="#p" x="236.00" y="588.00"/><use href="#p" x="252.00" y="588.00"/><use href="#p" x="268.00" y="588.00"/><use href="#p" x="285.00" y="588.00"/><use href="#p" x="301.00" y="588.00"/><use href="#p" x="317.00" y="588.00"/><use href="#p" x="333.00" y="588.00"/><use href="#p" x="350.00" y="588.00"/><use href="#p" x="366.00" y="588.00"/><use href="#p" x="382.00" y="588.00"/><use href="#p" x="398.00" y="588.00"/><use href="#p" x="415.00" y="588.00"/><use href="#p" x="431.00" y="588.00"/><use href="#p" x="447.00" y="588.00"/><use href="#p" x="463.00" y="588.00"/><use href="#p" x="480.00" y="588.00"/><use href="#p" x="496.00" y="588.00"/><use href="#p" x="512.00" y="588.00"/><use href="#p" x="528.00" y="588.00"/><use href="#p" x="545.00" y="588.00"/><use href="#p" x="561.00" y="588.00"/><use href="#p" x="577.00" y="588.00"/><use href="#p" x="593.00" y="588.00"/><use href="#p" x="610.00" y="588.00"/><use href="#p" x="626.00" y="588.00"/><use href="#p" x="642.00" y="588.00"/><use href="#p" x="659.00" y="588.00"/><use href="#p" x="675.00" y="588.00"/><use href="#p" x="691.00" y="588.00"/><use href="#p" x="707.00" y="588.00"/><use href="#p" x="724.00" y="588.00"/><use href="#p" x="740.00" y="588.00"/><use href="#p" x="756.00" y="588.00"/><use href="#p" x="772.00" y="588.00"/><use href="#p" x="789.00" y="588.00"/><use href="#p" x="805.00" y="588.00"/></g>
<circle cx="26.0" cy="28.0" r="15.2" fill="none" stroke="#e040e0" stroke-width="1.0"/>
<circle cx="26.0" cy="28.0" r="14.2" fill="none" stroke="#8890e0" stroke-width="0.6"/>
<circle cx="26.0" cy="28.0" r="7.8" fill="#1ac6d6"/>
<circle cx="826.0" cy="28.0" r="15.2" fill="none" stroke="#e040e0" stroke-width="1.0"/>
<circle cx="826.0" cy="28.0" r="14.2" fill="none" stroke="#8890e0" stroke-width="0.6"/>
<circle cx="826.0" cy="28.0" r="7.8" fill="#1ac6d6"/>
<circle cx="26.0" cy="604.0" r="15.2" fill="none" stroke="#e040e0" stroke-width="1.0"/>
<circle cx="26.0" cy="604.0" r="14.2" fill="none" stroke="#8890e0" stroke-width="0.6"/>
<circle cx="26.0" cy="604.0" r="7.8" fill="#1ac6d6"/>
<circle cx="826.0" cy="604.0" r="15.2" fill="none" stroke="#e040e0" stroke-width="1.0"/>
<circle cx="826.0" cy="604.0" r="14.2" fill="none" stroke="#8890e0" stroke-width="0.6"/>
<circle cx="826.0" cy="604.0" r="7.8" fill="#1ac6d6"/>
<g fill="#b4bac4" shape-rendering="crispEdges"><rect x="239" y="39" width="1" height="41"/><rect x="200" y="79" width="80" height="1"/></g>
<text x="531.0" y="31.9" font-size="14.8" fill="#f2eda1" textLength="32.0" lengthAdjust="spacingAndGlyphs">2,54</text>
<text x="570.6" y="31.9" font-size="14.8" fill="#f2eda1" textLength="25.4" lengthAdjust="spacingAndGlyphs">mm</text>
<text x="603.2" y="31.9" font-size="14.8" fill="#f2eda1" textLength="36.2" lengthAdjust="spacingAndGlyphs">pitch</text>
<text x="729.0" y="31.9" font-size="14.8" fill="#f2eda1" textLength="53.5" lengthAdjust="spacingAndGlyphs">125mm</text>
<g stroke="#f2eda1" stroke-width="1.0" fill="none"><path d="M690.5 18.5 L674 26.5 L690.5 34.5 Z"/><line x1="690.5" y1="26.5" x2="723.4" y2="26.5"/><line x1="788.7" y1="26.5" x2="804.7" y2="26.5"/></g>
<text x="315.6" y="316.8" font-size="15.5" fill="#d84a48" textLength="31.0" lengthAdjust="spacingAndGlyphs" style="font-weight:normal" stroke="#d84a48" stroke-width="0.45">Doh!</text>
<text x="353.3" y="316.8" font-size="15.5" fill="#d84a48" textLength="25.0" lengthAdjust="spacingAndGlyphs" style="font-weight:normal" stroke="#d84a48" stroke-width="0.45">You</text>
<text x="387.3" y="316.8" font-size="15.5" fill="#d84a48" textLength="49.0" lengthAdjust="spacingAndGlyphs" style="font-weight:normal" stroke="#d84a48" stroke-width="0.45">missed</text>
<text x="443.8" y="316.8" font-size="15.5" fill="#d84a48" textLength="30.6" lengthAdjust="spacingAndGlyphs" style="font-weight:normal" stroke="#d84a48" stroke-width="0.45">one!</text>
<text transform="translate(819.3,281.3) rotate(90)" x="0" y="0" font-size="15.5" fill="#d84a48" stroke="#d84a48" stroke-width="0.45" style="font-weight:normal" textLength="91" lengthAdjust="spacingAndGlyphs">PB-5-2A R1</text>
<text transform="translate(828.7,57) rotate(90) scale(1,-1)" x="0" y="0" font-size="13" fill="#4d7fc4" textLength="94" lengthAdjust="spacingAndGlyphs">M2 A5-c0mm</text>
<text transform="translate(823.8,50.8) rotate(90)" x="0" y="0" font-size="15" fill="#f2eda1" textLength="18.8" lengthAdjust="spacingAndGlyphs">M2</text>
<text transform="translate(823.8,110) rotate(90)" x="0" y="0" font-size="15" fill="#f2eda1" textLength="44" lengthAdjust="spacingAndGlyphs">90mm</text>
<g stroke="#f2eda1" stroke-width="1.0" fill="none"><line x1="829.5" y1="75" x2="829.5" y2="110"/><line x1="829.5" y1="155.4" x2="829.5" y2="189.2"/><path d="M821.5 189.5 L829.5 205.5 L837.5 189.5 Z"/></g>
<text transform="translate(15.6,578) rotate(-90) scale(1,-1)" x="0" y="0" font-size="15.5" fill="#5a8ad0" stroke="#5a8ad0" stroke-width="0.4" style="font-weight:normal" textLength="96" lengthAdjust="spacingAndGlyphs">PB-5-2A R1</text>
<text transform="translate(15.6,481.5) rotate(90)" x="0" y="0" font-size="15.5" fill="#d04848" stroke="#d04848" stroke-width="0.4" style="font-weight:normal" opacity="0.85" textLength="96" lengthAdjust="spacingAndGlyphs">PB-5-2A R1</text>
<g fill="#7a8898" fill-opacity="0.6" shape-rendering="crispEdges"><rect x="51" y="29" width="1" height="1"/><rect x="51" y="93" width="1" height="1"/><rect x="51" y="157" width="1" height="1"/><rect x="51" y="221" width="1" height="1"/><rect x="51" y="285" width="1" height="1"/><rect x="51" y="349" width="1" height="1"/><rect x="51" y="413" width="1" height="1"/><rect x="51" y="477" width="1" height="1"/><rect x="51" y="541" width="1" height="1"/><rect x="51" y="605" width="1" height="1"/><rect x="115" y="29" width="1" height="1"/><rect x="115" y="93" width="1" height="1"/><rect x="115" y="157" width="1" height="1"/><rect x="115" y="221" width="1" height="1"/><rect x="115" y="285" width="1" height="1"/><rect x="115" y="349" width="1" height="1"/><rect x="115" y="413" width="1" height="1"/><rect x="115" y="477" width="1" height="1"/><rect x="115" y="541" width="1" height="1"/><rect x="115" y="605" width="1" height="1"/><rect x="179" y="29" width="1" height="1"/><rect x="179" y="93" width="1" height="1"/><rect x="179" y="157" width="1" height="1"/><rect x="179" y="221" width="1" height="1"/><rect x="179" y="285" width="1" height="1"/><rect x="179" y="349" width="1" height="1"/><rect x="179" y="413" width="1" height="1"/><rect x="179" y="477" width="1" height="1"/><rect x="179" y="541" width="1" height="1"/><rect x="179" y="605" width="1" height="1"/><rect x="243" y="29" width="1" height="1"/><rect x="243" y="93" width="1" height="1"/><rect x="243" y="157" width="1" height="1"/><rect x="243" y="221" width="1" height="1"/><rect x="243" y="285" width="1" height="1"/><rect x="243" y="349" width="1" height="1"/><rect x="243" y="413" width="1" height="1"/><rect x="243" y="477" width="1" height="1"/><rect x="243" y="541" width="1" height="1"/><rect x="243" y="605" width="1" height="1"/><rect x="307" y="29" width="1" height="1"/><rect x="307" y="93" width="1" height="1"/><rect x="307" y="157" width="1" height="1"/><rect x="307" y="221" width="1" height="1"/><rect x="307" y="285" width="1" height="1"/><rect x="307" y="349" width="1" height="1"/><rect x="307" y="413" width="1" height="1"/><rect x="307" y="477" width="1" height="1"/><rect x="307" y="541" width="1" height="1"/><rect x="307" y="605" width="1" height="1"/><rect x="371" y="29" width="1" height="1"/><rect x="371" y="93" width="1" height="1"/><rect x="371" y="157" width="1" height="1"/><rect x="371" y="221" width="1" height="1"/><rect x="371" y="285" width="1" height="1"/><rect x="371" y="349" width="1" height="1"/><rect x="371" y="413" width="1" height="1"/><rect x="371" y="477" width="1" height="1"/><rect x="371" y="541" width="1" height="1"/><rect x="371" y="605" width="1" height="1"/><rect x="435" y="29" width="1" height="1"/><rect x="435" y="93" width="1" height="1"/><rect x="435" y="157" width="1" height="1"/><rect x="435" y="221" width="1" height="1"/><rect x="435" y="285" width="1" height="1"/><rect x="435" y="349" width="1" height="1"/><rect x="435" y="413" width="1" height="1"/><rect x="435" y="477" width="1" height="1"/><rect x="435" y="541" width="1" height="1"/><rect x="435" y="605" width="1" height="1"/><rect x="499" y="29" width="1" height="1"/><rect x="499" y="93" width="1" height="1"/><rect x="499" y="157" width="1" height="1"/><rect x="499" y="221" width="1" height="1"/><rect x="499" y="285" width="1" height="1"/><rect x="499" y="349" width="1" height="1"/><rect x="499" y="413" width="1" height="1"/><rect x="499" y="477" width="1" height="1"/><rect x="499" y="541" width="1" height="1"/><rect x="499" y="605" width="1" height="1"/><rect x="563" y="29" width="1" height="1"/><rect x="563" y="93" width="1" height="1"/><rect x="563" y="157" width="1" height="1"/><rect x="563" y="221" width="1" height="1"/><rect x="563" y="285" width="1" height="1"/><rect x="563" y="349" width="1" height="1"/><rect x="563" y="413" width="1" height="1"/><rect x="563" y="477" width="1" height="1"/><rect x="563" y="541" width="1" height="1"/><rect x="563" y="605" width="1" height="1"/><rect x="627" y="29" width="1" height="1"/><rect x="627" y="93" width="1" height="1"/><rect x="627" y="157" width="1" height="1"/><rect x="627" y="221" width="1" height="1"/><rect x="627" y="285" width="1" height="1"/><rect x="627" y="349" width="1" height="1"/><rect x="627" y="413" width="1" height="1"/><rect x="627" y="477" width="1" height="1"/><rect x="627" y="541" width="1" height="1"/><rect x="627" y="605" width="1" height="1"/><rect x="691" y="29" width="1" height="1"/><rect x="691" y="93" width="1" height="1"/><rect x="691" y="157" width="1" height="1"/><rect x="691" y="221" width="1" height="1"/><rect x="691" y="285" width="1" height="1"/><rect x="691" y="349" width="1" height="1"/><rect x="691" y="413" width="1" height="1"/><rect x="691" y="477" width="1" height="1"/><rect x="691" y="541" width="1" height="1"/><rect x="691" y="605" width="1" height="1"/><rect x="755" y="29" width="1" height="1"/><rect x="755" y="93" width="1" height="1"/><rect x="755" y="157" width="1" height="1"/><rect x="755" y="221" width="1" height="1"/><rect x="755" y="285" width="1" height="1"/><rect x="755" y="349" width="1" height="1"/><rect x="755" y="413" width="1" height="1"/><rect x="755" y="477" width="1" height="1"/><rect x="755" y="541" width="1" height="1"/><rect x="755" y="605" width="1" height="1"/><rect x="819" y="29" width="1" height="1"/><rect x="819" y="93" width="1" height="1"/><rect x="819" y="157" width="1" height="1"/><rect x="819" y="221" width="1" height="1"/><rect x="819" y="285" width="1" height="1"/><rect x="819" y="349" width="1" height="1"/><rect x="819" y="413" width="1" height="1"/><rect x="819" y="477" width="1" height="1"/><rect x="819" y="541" width="1" height="1"/><rect x="819" y="605" width="1" height="1"/></g>
</svg></body></html>
